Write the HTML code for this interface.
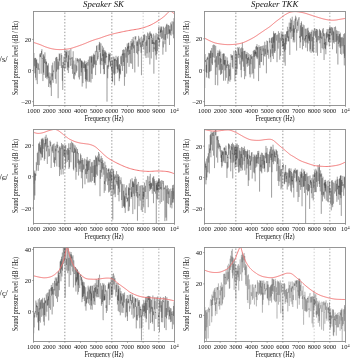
<!DOCTYPE html><html><head><meta charset="utf-8"><style>html,body{margin:0;padding:0;background:#fff;width:350px;height:358px;overflow:hidden}svg{display:block;will-change:transform}text{font-family:"Liberation Serif",serif;fill:#111}</style></head><body>
<svg width="350" height="358" viewBox="0 0 350 358" xmlns="http://www.w3.org/2000/svg">
<defs>
<clipPath id="cp00"><rect x="33.5" y="11.5" width="141.0" height="94"/></clipPath>
<clipPath id="cp01"><rect x="204.5" y="11.5" width="141.0" height="94"/></clipPath>
<clipPath id="cp10"><rect x="33.5" y="129.5" width="141.0" height="94"/></clipPath>
<clipPath id="cp11"><rect x="204.5" y="129.5" width="141.0" height="94"/></clipPath>
<clipPath id="cp20"><rect x="33.5" y="247.5" width="141.0" height="94"/></clipPath>
<clipPath id="cp21"><rect x="204.5" y="247.5" width="141.0" height="94"/></clipPath>
</defs>
<text transform="translate(103.5,7.3) scale(0.25,0.25)" font-size="35.2" text-anchor="middle" font-style="italic">Speaker SK</text>
<text transform="translate(274.7,7.3) scale(0.25,0.25)" font-size="35.2" text-anchor="middle" font-style="italic">Speaker TKK</text>
<line x1="64.83" y1="12.5" x2="64.83" y2="105.5" stroke="#8a8a8a" stroke-width="0.9" stroke-dasharray="1.4 1.8"/>
<line x1="111.83" y1="12.5" x2="111.83" y2="105.5" stroke="#8a8a8a" stroke-width="0.9" stroke-dasharray="1.4 1.8"/>
<line x1="143.17" y1="12.5" x2="143.17" y2="105.5" stroke="#c8c8c8" stroke-width="0.9" stroke-dasharray="1.4 1.8"/>
<line x1="158.83" y1="12.5" x2="158.83" y2="105.5" stroke="#a0a0a0" stroke-width="0.9" stroke-dasharray="1.4 1.8"/>
<path d="M33.5 71.72 33.7 62.68 33.9 52.96 34.1 66.35 34.3 65.28 34.5 58.58 34.7 58.3 34.9 73.35 35.1 57.89 35.3 59.02 35.5 77.66 35.7 57.9 35.9 63.24 36.1 80.27 36.3 60.02 36.5 67.94 36.7 59.11 36.9 64.74 37.11 80.88 37.31 84.1 37.51 74 37.71 62.67 37.91 64.63 38.11 69.57 38.31 63.58 38.51 66.88 38.71 69.58 38.91 69.63 39.11 68.55 39.31 73.86 39.51 56.28 39.71 54.93 39.91 53.65 40.11 56.93 40.31 54.63 40.51 57.19 40.71 52.99 40.91 59.68 41.11 73.69 41.31 62.22 41.51 50.88 41.71 54.52 41.91 49.16 42.11 58.38 42.31 59.01 42.51 58.39 42.71 59.65 42.91 81.11 43.11 54.47 43.31 68.94 43.51 72.56 43.71 54.38 43.91 74.9 44.12 56.7 44.32 56.41 44.52 63.14 44.72 56.75 44.92 52.34 45.12 54.88 45.32 67.07 45.52 77.86 45.72 59.17 45.92 64.17 46.12 61.42 46.32 77.4 46.52 61.79 46.72 69.08 46.92 78.99 47.12 79.26 47.32 65.46 47.52 76.51 47.72 65.43 47.92 72.68 48.12 78.03 48.32 63.35 48.52 86.98 48.72 83.73 48.92 73.08 49.12 72.51 49.32 72.64 49.52 83.51 49.72 81.38 49.92 76.54 50.12 87.45 50.32 83.36 50.52 80.62 50.72 84.73 50.92 73.16 51.12 76.08 51.33 96.02 51.53 79.04 51.73 68.07 51.93 65.32 52.13 76.45 52.33 73.49 52.53 80.24 52.73 62.65 52.93 76.94 53.13 82.79 53.33 78.49 53.53 70.56 53.73 71.87 53.93 69.38 54.13 67.97 54.33 61.18 54.53 62.85 54.73 68.16 54.93 73.28 55.13 74.33 55.33 78.92 55.53 59.01 55.73 57.81 55.93 61.45 56.13 83.63 56.33 56.92 56.53 71.59 56.73 58.46 56.93 56.88 57.13 60.94 57.33 61.6 57.53 69.51 57.73 62.36 57.93 58.73 58.13 98.22 58.34 61.55 58.54 66.56 58.74 69.49 58.94 61.61 59.14 53.58 59.34 54.65 59.54 60.62 59.74 53.71 59.94 65.84 60.14 59.36 60.34 59.41 60.54 58.96 60.74 58.25 60.94 57.79 61.14 53.2 61.34 67.96 61.54 66.37 61.74 54.95 61.94 64.53 62.14 71.65 62.34 80.8 62.54 65.13 62.74 89.91 62.94 62.22 63.14 63.38 63.34 62.41 63.54 68.1 63.74 58.92 63.94 56.61 64.14 65.26 64.34 70.55 64.54 61.67 64.74 50.86 64.94 49.2 65.14 50.39 65.35 52.08 65.55 54.88 65.75 68.43 65.95 51.34 66.15 62.37 66.35 52.1 66.55 57.62 66.75 49.91 66.95 50.19 67.15 54.5 67.35 70.01 67.55 70.32 67.75 61.74 67.95 67.24 68.15 50.72 68.35 73.06 68.55 55.35 68.75 57.94 68.95 67.82 69.15 59.09 69.35 50.27 69.55 55.41 69.75 59.15 69.95 59.67 70.15 58.37 70.35 58.99 70.55 65.86 70.75 49.03 70.95 48.78 71.15 58.89 71.35 57.53 71.55 62.71 71.75 65.16 71.95 64.66 72.15 69.04 72.36 57.14 72.56 73.8 72.76 67.17 72.96 64.83 73.16 51.26 73.36 70.6 73.56 78.71 73.76 61.11 73.96 60.53 74.16 63.21 74.36 79.44 74.56 72.54 74.76 73.86 74.96 64.4 75.16 75.48 75.36 74.23 75.56 64.49 75.76 62.18 75.96 57.85 76.16 61.39 76.36 72.65 76.56 65.5 76.76 66.37 76.96 70.77 77.16 59.35 77.36 61.19 77.56 57.97 77.76 58.76 77.96 62.56 78.16 59.14 78.36 60.08 78.56 61.87 78.76 77.35 78.96 70.15 79.16 59.4 79.37 79.48 79.57 75.5 79.77 69.22 79.97 58.06 80.17 61.35 80.37 58.79 80.57 62.06 80.77 67.72 80.97 75.91 81.17 60.67 81.37 72.36 81.57 60.57 81.77 67.8 81.97 60.65 82.17 86.62 82.37 61.57 82.57 64.63 82.77 70.41 82.97 83.2 83.17 62.66 83.37 64.2 83.57 64.87 83.77 68 83.97 61.77 84.17 68.23 84.37 65.98 84.57 60.56 84.77 70.49 84.97 71.75 85.17 64.07 85.37 79.16 85.57 64.45 85.77 81.52 85.97 61.29 86.17 88.49 86.38 76.55 86.58 62.91 86.78 79.98 86.98 69.17 87.18 76.03 87.38 81.51 87.58 63.16 87.78 61.9 87.98 65.58 88.18 60.09 88.38 59.7 88.58 63 88.78 70.74 88.98 82.14 89.18 78.99 89.38 56.46 89.58 69.38 89.78 81.59 89.98 58.56 90.18 57.7 90.38 56.1 90.58 67.12 90.78 70.57 90.98 82.55 91.18 57.15 91.38 62.6 91.58 56.31 91.78 73.83 91.98 55.41 92.18 78.91 92.38 64.79 92.58 65.39 92.78 62.03 92.98 56.68 93.18 68.34 93.38 65.89 93.59 53.66 93.79 67.36 93.99 55.01 94.19 63.29 94.39 64.35 94.59 54.66 94.79 63.87 94.99 64.55 95.19 52.48 95.39 50.82 95.59 75.12 95.79 63.28 95.99 60.47 96.19 64.2 96.39 65.08 96.59 46.07 96.79 51.98 96.99 45.2 97.19 53.27 97.39 53.51 97.59 60.56 97.79 51.51 97.99 58.95 98.19 56.53 98.39 56.83 98.59 53.97 98.79 46.47 98.99 44.45 99.19 49.99 99.39 41.88 99.59 45.25 99.79 52.11 99.99 42.68 100.19 64.59 100.39 53.2 100.6 73.67 100.8 47.42 101 43.46 101.2 55.68 101.4 60.45 101.6 60.93 101.8 58.07 102 65.19 102.2 56.65 102.4 45.78 102.6 56.21 102.8 49.63 103 61.47 103.2 53.8 103.4 69.09 103.6 47.58 103.8 61.31 104 74.35 104.2 50.16 104.4 74 104.6 64.13 104.8 52.17 105 63.02 105.2 50.66 105.4 64.2 105.6 64.68 105.8 51.7 106 57.88 106.2 52.92 106.4 54.27 106.6 57.16 106.8 56.07 107 101.65 107.2 68.68 107.4 65.56 107.61 77.71 107.81 78.3 108.01 64.88 108.21 68.73 108.41 54.02 108.61 60.79 108.81 66.84 109.01 52.54 109.21 62.34 109.41 54.45 109.61 60.53 109.81 54.53 110.01 55.74 110.21 53.03 110.41 65.95 110.61 61.12 110.81 66.89 111.01 62.79 111.21 57.38 111.41 70.09 111.61 66.91 111.81 78.13 112.01 78.27 112.21 81.06 112.41 60.37 112.61 82.35 112.81 65.3 113.01 56.59 113.21 64.73 113.41 65 113.61 64.97 113.81 73.38 114.01 56.77 114.21 74.75 114.41 59.26 114.62 85.32 114.82 58.66 115.02 60.84 115.22 58.67 115.42 61.69 115.62 67.17 115.82 73.68 116.02 55.75 116.22 66.57 116.42 60.02 116.62 62.04 116.82 63.4 117.02 66.45 117.22 69.14 117.42 56.95 117.62 72.72 117.82 58.4 118.02 69.7 118.22 55.91 118.42 59.56 118.62 65.74 118.82 71.44 119.02 64.79 119.22 81.18 119.42 63.95 119.62 78.45 119.82 68.69 120.02 73.49 120.22 65.46 120.42 67.16 120.62 74.53 120.82 56.49 121.02 64.33 121.22 55.71 121.42 64.44 121.62 65.82 121.83 58.6 122.03 57.66 122.23 53.85 122.43 70.92 122.63 49.93 122.83 55.32 123.03 53.22 123.23 55.19 123.43 62.08 123.63 49.33 123.83 66.07 124.03 56.43 124.23 49.79 124.43 85.8 124.63 61.37 124.83 53.19 125.03 76.95 125.23 50.15 125.43 46.99 125.63 50.36 125.83 51.04 126.03 57.55 126.23 48.46 126.43 51.02 126.63 73.57 126.83 58.11 127.03 55.71 127.23 43.48 127.43 62.78 127.63 46.72 127.83 51.63 128.03 45.66 128.23 48.55 128.43 42.98 128.63 55.18 128.84 42.53 129.04 66.83 129.24 58.84 129.44 55.88 129.64 49.88 129.84 54.13 130.04 45.87 130.24 49.12 130.44 63.35 130.64 47.98 130.84 41.03 131.04 41 131.24 57.5 131.44 63.65 131.64 43.37 131.84 49.66 132.04 39.14 132.24 46.5 132.44 42.56 132.64 68.96 132.84 49.18 133.04 39.01 133.24 36.95 133.44 48.38 133.64 44.14 133.84 40.59 134.04 53.07 134.24 46.39 134.44 45.3 134.64 58.58 134.84 72.44 135.04 36.41 135.24 39.6 135.44 37.78 135.64 38.36 135.85 36.21 136.05 43.34 136.25 43.7 136.45 53.13 136.65 48.29 136.85 41.34 137.05 45.89 137.25 42.08 137.45 54.29 137.65 40.48 137.85 43.71 138.05 52.03 138.25 66.68 138.45 41.98 138.65 35.84 138.85 51.18 139.05 46.24 139.25 38.82 139.45 41.41 139.65 42.12 139.85 44.53 140.05 37.56 140.25 39.59 140.45 42.96 140.65 47.28 140.85 42.23 141.05 52.82 141.25 44.78 141.45 75.17 141.65 36.67 141.85 37.91 142.05 45.15 142.25 41.15 142.45 42.35 142.65 46.97 142.86 39.42 143.06 42.11 143.26 41.93 143.46 39.78 143.66 35.24 143.86 49.64 144.06 36.12 144.26 34.17 144.46 38.25 144.66 40.63 144.86 34.79 145.06 55.65 145.26 46.68 145.46 42.12 145.66 41.7 145.86 41.96 146.06 58.08 146.26 35.8 146.46 37.68 146.66 45.88 146.86 40.38 147.06 53.35 147.26 45.25 147.46 33.86 147.66 32.45 147.86 46.89 148.06 57.66 148.26 33.53 148.46 37.32 148.66 39.34 148.86 38.23 149.06 39.15 149.26 35.73 149.46 52.36 149.66 32.56 149.87 64.47 150.07 31.39 150.27 32.83 150.47 35.71 150.67 33.51 150.87 37.28 151.07 46.9 151.27 58.45 151.47 33.58 151.67 38 151.87 34.65 152.07 43.93 152.27 39.86 152.47 43.99 152.67 37.81 152.87 39.56 153.07 52 153.27 41.92 153.47 44.08 153.67 33.7 153.87 73.68 154.07 47.29 154.27 49.25 154.47 42.49 154.67 44.45 154.87 36.22 155.07 35.46 155.27 51.3 155.47 40.34 155.67 55.39 155.87 45.18 156.07 32.89 156.27 59.72 156.47 39.86 156.67 42.05 156.88 54.17 157.08 39.49 157.28 34 157.48 42.81 157.68 50.88 157.88 37.62 158.08 38.57 158.28 36.5 158.48 39.98 158.68 26.95 158.88 36.64 159.08 41.48 159.28 46.86 159.48 38.49 159.68 42.23 159.88 41.04 160.08 26.47 160.28 36.8 160.48 30.27 160.68 32.8 160.88 28.47 161.08 32.05 161.28 26.64 161.48 38.73 161.68 28.34 161.88 26.55 162.08 34.04 162.28 38.25 162.48 35.75 162.68 30.35 162.88 54.67 163.08 41.35 163.28 47.45 163.48 26.6 163.68 34.19 163.88 39.5 164.09 27.73 164.29 28 164.49 31.1 164.69 40.39 164.89 44.23 165.09 34.13 165.29 39.88 165.49 35.56 165.69 26.63 165.89 51.79 166.09 28.9 166.29 24.77 166.49 24.6 166.69 34.7 166.89 23.69 167.09 27.9 167.29 37.6 167.49 37.86 167.69 38.54 167.89 24.78 168.09 34.25 168.29 32.89 168.49 25.14 168.69 30.05 168.89 29.89 169.09 33.84 169.29 29.39 169.49 44.99 169.69 25.75 169.89 33.29 170.09 29.53 170.29 34.82 170.49 24.11 170.69 22.56 170.89 23.13 171.1 35.68 171.3 30.42 171.5 24.38 171.7 30.8 171.9 29.21 172.1 21.3 172.3 30.46 172.5 31.3 172.7 31.45 172.9 34.34 173.1 34.47 173.3 21.61 173.5 38.22 173.7 33.66 173.9 18.22 174.1 20.71 174.3 29.15 174.5 36.05" fill="none" stroke="#000" stroke-width="0.22" clip-path="url(#cp00)"/>
<path d="M33.5 42.4 34.01 42.57 34.7 42.8 35.53 43.07 36.44 43.37 37.39 43.69 38.33 44.01 39.21 44.31 40 44.6 40.7 44.87 41.36 45.14 41.98 45.42 42.59 45.69 43.19 45.95 43.79 46.21 44.39 46.46 45 46.7 45.62 46.93 46.25 47.15 46.88 47.36 47.5 47.57 48.12 47.77 48.75 47.95 49.38 48.13 50 48.3 50.62 48.46 51.25 48.61 51.88 48.75 52.5 48.88 53.12 49 53.75 49.11 54.38 49.21 55 49.3 55.62 49.38 56.25 49.44 56.88 49.49 57.5 49.53 58.12 49.56 58.75 49.58 59.38 49.6 60 49.6 60.62 49.59 61.25 49.58 61.88 49.55 62.5 49.51 63.12 49.47 63.75 49.42 64.38 49.36 65 49.3 65.62 49.24 66.25 49.17 66.88 49.1 67.5 49.02 68.12 48.94 68.75 48.84 69.38 48.73 70 48.6 70.62 48.45 71.25 48.29 71.88 48.1 72.5 47.91 73.12 47.71 73.75 47.51 74.38 47.3 75 47.1 75.62 46.9 76.25 46.69 76.88 46.49 77.5 46.27 78.12 46.06 78.75 45.84 79.38 45.62 80 45.4 80.62 45.17 81.25 44.94 81.88 44.71 82.5 44.48 83.12 44.24 83.75 43.99 84.38 43.75 85 43.5 85.62 43.25 86.25 42.98 86.88 42.71 87.5 42.44 88.12 42.17 88.75 41.91 89.38 41.65 90 41.4 90.62 41.16 91.25 40.92 91.88 40.69 92.5 40.46 93.12 40.24 93.75 40.02 94.38 39.81 95 39.6 95.62 39.4 96.25 39.21 96.88 39.03 97.5 38.85 98.12 38.67 98.75 38.49 99.38 38.3 100 38.1 100.61 37.89 101.21 37.68 101.81 37.46 102.41 37.23 103.02 37 103.64 36.77 104.3 36.54 105 36.3 105.73 36.06 106.47 35.81 107.24 35.56 108.03 35.31 108.85 35.06 109.7 34.8 110.58 34.55 111.5 34.3 112.46 34.05 113.45 33.8 114.48 33.55 115.53 33.3 116.61 33.05 117.72 32.8 118.85 32.55 120 32.3 121.18 32.05 122.39 31.79 123.64 31.54 124.91 31.28 126.18 31.03 127.46 30.78 128.74 30.54 130 30.3 131.25 30.08 132.5 29.89 133.75 29.71 135 29.53 136.25 29.34 137.5 29.13 138.75 28.89 140 28.6 141.26 28.28 142.53 27.93 143.8 27.55 145.08 27.16 146.34 26.73 147.58 26.28 148.81 25.8 150 25.3 151.18 24.75 152.35 24.16 153.5 23.53 154.64 22.88 155.74 22.22 156.81 21.56 157.83 20.92 158.8 20.3 159.71 19.71 160.57 19.12 161.38 18.54 162.15 17.97 162.89 17.4 163.61 16.83 164.31 16.27 165 15.7 165.67 15.08 166.3 14.4 166.91 13.69 167.49 12.99 168.07 12.36 168.64 11.82 169.21 11.42 169.8 11.2 170.42 11.21 171.09 11.43 171.78 11.8 172.45 12.27 173.09 12.77 173.66 13.25 174.14 13.64 174.5 13.9" fill="none" stroke="#f07070" stroke-width="0.95" clip-path="url(#cp00)"/>
<rect x="33.5" y="11.5" width="141.0" height="94" fill="none" stroke="#8c8c8c" stroke-width="0.9"/>
<line x1="33.5" y1="105.5" x2="33.5" y2="106.7" stroke="#777" stroke-width="0.8"/>
<text transform="translate(33.5,113.4) scale(0.25,0.27)" font-size="26" text-anchor="middle">1000</text>
<line x1="49.17" y1="105.5" x2="49.17" y2="106.7" stroke="#777" stroke-width="0.8"/>
<text transform="translate(49.17,113.4) scale(0.25,0.27)" font-size="26" text-anchor="middle">2000</text>
<line x1="64.83" y1="105.5" x2="64.83" y2="106.7" stroke="#777" stroke-width="0.8"/>
<text transform="translate(64.83,113.4) scale(0.25,0.27)" font-size="26" text-anchor="middle">3000</text>
<line x1="80.5" y1="105.5" x2="80.5" y2="106.7" stroke="#777" stroke-width="0.8"/>
<text transform="translate(80.5,113.4) scale(0.25,0.27)" font-size="26" text-anchor="middle">4000</text>
<line x1="96.17" y1="105.5" x2="96.17" y2="106.7" stroke="#777" stroke-width="0.8"/>
<text transform="translate(96.17,113.4) scale(0.25,0.27)" font-size="26" text-anchor="middle">5000</text>
<line x1="111.83" y1="105.5" x2="111.83" y2="106.7" stroke="#777" stroke-width="0.8"/>
<text transform="translate(111.83,113.4) scale(0.25,0.27)" font-size="26" text-anchor="middle">6000</text>
<line x1="127.5" y1="105.5" x2="127.5" y2="106.7" stroke="#777" stroke-width="0.8"/>
<text transform="translate(127.5,113.4) scale(0.25,0.27)" font-size="26" text-anchor="middle">7000</text>
<line x1="143.17" y1="105.5" x2="143.17" y2="106.7" stroke="#777" stroke-width="0.8"/>
<text transform="translate(143.17,113.4) scale(0.25,0.27)" font-size="26" text-anchor="middle">8000</text>
<line x1="158.83" y1="105.5" x2="158.83" y2="106.7" stroke="#777" stroke-width="0.8"/>
<text transform="translate(158.83,113.4) scale(0.25,0.27)" font-size="26" text-anchor="middle">9000</text>
<line x1="174.5" y1="105.5" x2="174.5" y2="106.7" stroke="#777" stroke-width="0.8"/>
<text transform="translate(173.3,113.4) scale(0.25,0.27)" font-size="26" text-anchor="middle">10</text><text transform="translate(176.5,110.5) scale(0.25,0.28)" font-size="17.2" text-anchor="start">4</text>
<text transform="translate(104,120.5) scale(0.25,0.29)" font-size="24.8" text-anchor="middle">Frequency (Hz)</text>
<line x1="32.3" y1="39.4" x2="33.5" y2="39.4" stroke="#777" stroke-width="0.8"/>
<text transform="translate(31.3,41.8) scale(0.25,0.27)" font-size="26" text-anchor="end">20</text>
<line x1="32.3" y1="70.5" x2="33.5" y2="70.5" stroke="#777" stroke-width="0.8"/>
<text transform="translate(31.3,72.9) scale(0.25,0.27)" font-size="26" text-anchor="end">0</text>
<line x1="32.3" y1="101.6" x2="33.5" y2="101.6" stroke="#777" stroke-width="0.8"/>
<text transform="translate(31.3,104) scale(0.25,0.27)" font-size="26" text-anchor="end">–20</text>
<text transform="translate(18.3,58) rotate(-90) scale(0.25,0.33)" font-size="24" text-anchor="middle">Sound pressure level (dB / Hz)</text>
<line x1="235.83" y1="12.5" x2="235.83" y2="105.5" stroke="#8a8a8a" stroke-width="0.9" stroke-dasharray="1.4 1.8"/>
<line x1="282.83" y1="12.5" x2="282.83" y2="105.5" stroke="#8a8a8a" stroke-width="0.9" stroke-dasharray="1.4 1.8"/>
<line x1="314.17" y1="12.5" x2="314.17" y2="105.5" stroke="#c8c8c8" stroke-width="0.9" stroke-dasharray="1.4 1.8"/>
<line x1="329.83" y1="12.5" x2="329.83" y2="105.5" stroke="#a0a0a0" stroke-width="0.9" stroke-dasharray="1.4 1.8"/>
<path d="M204.5 57.23 204.7 88.05 204.9 56.47 205.1 54.1 205.3 61.99 205.5 60.08 205.7 62.32 205.9 62.75 206.1 72.02 206.3 64.77 206.5 77.42 206.7 59.2 206.9 73.12 207.1 57.56 207.3 59.79 207.5 56.71 207.7 58.64 207.9 57.89 208.11 61.64 208.31 77.87 208.51 73.84 208.71 52.88 208.91 55.32 209.11 78.62 209.31 53.54 209.51 68.48 209.71 71.99 209.91 53.1 210.11 71.29 210.31 60.03 210.51 50.59 210.71 58.17 210.91 50.7 211.11 70.84 211.31 64.48 211.51 63.46 211.71 47.95 211.91 61.34 212.11 63.54 212.31 52.9 212.51 65.09 212.71 58.89 212.91 45.2 213.11 56.98 213.31 49.75 213.51 45.13 213.71 44.53 213.91 44.53 214.11 57.87 214.31 56.76 214.51 47.35 214.71 45 214.91 62.47 215.12 59.61 215.32 85.08 215.52 53.97 215.72 45.84 215.92 72.73 216.12 74.82 216.32 64.96 216.52 56.19 216.72 67.4 216.92 58.47 217.12 56.41 217.32 54.15 217.52 53.14 217.72 85.37 217.92 50.45 218.12 51.15 218.32 64.71 218.52 59.03 218.72 52.84 218.92 54.72 219.12 70.36 219.32 51.31 219.52 56.01 219.72 49.58 219.92 69.65 220.12 57.85 220.32 57.95 220.52 74.83 220.72 51.57 220.92 62.61 221.12 58.86 221.32 74.15 221.52 63.76 221.72 64.06 221.92 73.39 222.12 55.39 222.33 53.88 222.53 69.82 222.73 65.89 222.93 65.78 223.13 64.52 223.33 53.46 223.53 80.72 223.73 53.65 223.93 64.19 224.13 53.53 224.33 53.92 224.53 65.33 224.73 59.89 224.93 70.42 225.13 60.12 225.33 80.65 225.53 60.07 225.73 56.3 225.93 58.65 226.13 70.39 226.33 77.8 226.53 64.56 226.73 67.93 226.93 67.44 227.13 57.42 227.33 64.92 227.53 65.93 227.73 60.56 227.93 83.82 228.13 80.2 228.33 78.28 228.53 64.24 228.73 80.81 228.93 67.67 229.13 64.82 229.34 67.26 229.54 76.24 229.74 69.24 229.94 81.71 230.14 62.81 230.34 67.67 230.54 68.71 230.74 79.7 230.94 54.15 231.14 56.14 231.34 57.63 231.54 55.73 231.74 55.2 231.94 60.09 232.14 55.98 232.34 67.29 232.54 55.02 232.74 68.19 232.94 68.03 233.14 68.62 233.34 67.95 233.54 59.38 233.74 57.41 233.94 50.78 234.14 54.82 234.34 56.7 234.54 65.24 234.74 66.18 234.94 81.38 235.14 71.26 235.34 53.3 235.54 49.95 235.74 75.2 235.94 70.04 236.14 52.1 236.35 52.07 236.55 51.75 236.75 74.67 236.95 53.84 237.15 68.86 237.35 47.87 237.55 47.83 237.75 47.21 237.95 49.43 238.15 55.58 238.35 58.15 238.55 48.31 238.75 55.19 238.95 49.06 239.15 46.86 239.35 54.65 239.55 53.76 239.75 64.28 239.95 55.02 240.15 57.59 240.35 53.94 240.55 48.39 240.75 58.76 240.95 70.11 241.15 61.09 241.35 77.35 241.55 47.52 241.75 61.21 241.95 51.69 242.15 59.36 242.35 42.62 242.55 56.89 242.75 61.59 242.95 48.3 243.15 61.22 243.36 66.7 243.56 57.46 243.76 55.36 243.96 51.05 244.16 71.08 244.36 50.81 244.56 79.17 244.76 74.02 244.96 70.7 245.16 50.76 245.36 56.63 245.56 73.37 245.76 76.3 245.96 54.29 246.16 58.64 246.36 54.08 246.56 57.51 246.76 64.22 246.96 51.92 247.16 60.47 247.36 66.73 247.56 57.98 247.76 63.22 247.96 56.5 248.16 53.15 248.36 60.23 248.56 57.24 248.76 65.72 248.96 55.4 249.16 54.81 249.36 54.31 249.56 70.34 249.76 74.26 249.96 58.69 250.16 77.4 250.37 58.79 250.57 54.97 250.77 62.87 250.97 64.32 251.17 54.21 251.37 58.93 251.57 56.46 251.77 60.5 251.97 74.36 252.17 65.69 252.37 56.24 252.57 66.89 252.77 68.82 252.97 73.22 253.17 50.94 253.37 51.93 253.57 65.25 253.77 78.67 253.97 50.14 254.17 57 254.37 49.72 254.57 50.11 254.77 68.72 254.97 52.02 255.17 55.55 255.37 50.57 255.57 53.99 255.77 46.64 255.97 56.19 256.17 52.1 256.37 57.41 256.57 46.1 256.77 49.61 256.97 44.12 257.17 59.08 257.38 47.29 257.58 49.64 257.78 57.57 257.98 47.1 258.18 60.35 258.38 62.35 258.58 81.13 258.78 54.54 258.98 45.25 259.18 49.76 259.38 65.13 259.58 55.91 259.78 47.02 259.98 68.06 260.18 59.91 260.38 49.61 260.58 50.04 260.78 46.42 260.98 61.92 261.18 46.08 261.38 51.56 261.58 61.92 261.78 53.83 261.98 55 262.18 54.17 262.38 49.63 262.58 45.79 262.78 48.29 262.98 51.4 263.18 48.35 263.38 65.32 263.58 52.1 263.78 45.4 263.98 50.76 264.18 56.08 264.38 53.9 264.59 47.93 264.79 41.72 264.99 56.69 265.19 48.74 265.39 54.39 265.59 50.93 265.79 45.65 265.99 44.86 266.19 47.55 266.39 73.31 266.59 54.48 266.79 40.53 266.99 42 267.19 42.61 267.39 55.03 267.59 41.06 267.79 52.69 267.99 49.66 268.19 51.56 268.39 52.42 268.59 57.17 268.79 58.74 268.99 47.45 269.19 47.21 269.39 37.93 269.59 42.62 269.79 42.14 269.99 40.61 270.19 46.16 270.39 57.32 270.59 49.36 270.79 62.11 270.99 59.47 271.19 38.22 271.39 43.09 271.6 37.51 271.8 45.97 272 53.56 272.2 44.63 272.4 56.25 272.6 37.24 272.8 48.07 273 37.94 273.2 36.6 273.4 58.96 273.6 31.27 273.8 42.69 274 33.07 274.2 52.69 274.4 37.95 274.6 34.1 274.8 52.88 275 33.31 275.2 50.94 275.4 35.93 275.6 32.94 275.8 34.4 276 35.39 276.2 39.1 276.4 40.6 276.6 39.1 276.8 34.84 277 62.21 277.2 51.33 277.4 50.99 277.6 41.18 277.8 34.4 278 44.03 278.2 48.65 278.4 31.23 278.61 32.59 278.81 33.76 279.01 42.76 279.21 32.92 279.41 33.4 279.61 56.95 279.81 59.74 280.01 45.61 280.21 37.69 280.41 39.16 280.61 55.85 280.81 37.55 281.01 35.07 281.21 31.36 281.41 40.85 281.61 38.47 281.81 34.24 282.01 42.9 282.21 47.11 282.41 44.96 282.61 34.94 282.81 32.74 283.01 46.13 283.21 34.54 283.41 49.3 283.61 38.87 283.81 42.83 284.01 62.34 284.21 43.99 284.41 42.87 284.61 51.52 284.81 34.5 285.01 44.15 285.21 65.78 285.41 34.16 285.62 49.69 285.82 37.87 286.02 41.71 286.22 44.35 286.42 40.59 286.62 31.66 286.82 41.52 287.02 31 287.22 37.43 287.42 26.75 287.62 27.01 287.82 37.94 288.02 31.04 288.22 41.33 288.42 36.4 288.62 41.36 288.82 29.44 289.02 31.41 289.22 22.57 289.42 35.46 289.62 39.43 289.82 54.92 290.02 26.84 290.22 29.32 290.42 18.46 290.62 32.5 290.82 22.89 291.02 33.04 291.22 38.87 291.42 25.36 291.62 19.79 291.82 31.15 292.02 20 292.22 16.7 292.42 22.3 292.62 22.98 292.83 36.98 293.03 28.56 293.23 42.39 293.43 25.24 293.63 40.28 293.83 27.43 294.03 20.68 294.23 32.66 294.43 28.52 294.63 42.39 294.83 41.52 295.03 18.82 295.23 19.98 295.43 29.13 295.63 15.72 295.83 20.63 296.03 17.39 296.23 17.58 296.43 41.38 296.63 50.6 296.83 29.31 297.03 32.81 297.23 21.58 297.43 25.76 297.63 24 297.83 19.68 298.03 30.84 298.23 29.99 298.43 26.33 298.63 18.59 298.83 19.56 299.03 17.03 299.23 18.76 299.43 29.06 299.63 38.05 299.84 35.9 300.04 48.09 300.24 31.69 300.44 25.38 300.64 42.34 300.84 28.16 301.04 22.9 301.24 36.75 301.44 21.34 301.64 36.12 301.84 28.54 302.04 27.37 302.24 27.56 302.44 49.35 302.64 26.95 302.84 39.66 303.04 24.45 303.24 38.28 303.44 45.98 303.64 31.88 303.84 25.97 304.04 25.18 304.24 25.58 304.44 27.07 304.64 40.69 304.84 38.34 305.04 42.59 305.24 28.69 305.44 39.21 305.64 35.66 305.84 47.68 306.04 28.71 306.24 31.18 306.44 36.26 306.64 35 306.85 42.51 307.05 39.14 307.25 28.35 307.45 51.28 307.65 34.39 307.85 30.09 308.05 27.67 308.25 43.47 308.45 30.59 308.65 38.62 308.85 33.22 309.05 40.58 309.25 35.41 309.45 40.99 309.65 32.39 309.85 51.47 310.05 31.79 310.25 49.33 310.45 48.85 310.65 33.77 310.85 39.39 311.05 52.91 311.25 36.87 311.45 31.69 311.65 33.76 311.85 41.36 312.05 29.68 312.25 39.85 312.45 51.18 312.65 36.88 312.85 52.21 313.05 47.67 313.25 43.89 313.45 30.51 313.65 52.76 313.86 33.71 314.06 34.35 314.26 30.22 314.46 28.13 314.66 29.8 314.86 35.53 315.06 29.51 315.26 28.63 315.46 37.63 315.66 32.27 315.86 30.96 316.06 52.8 316.26 50.6 316.46 28.93 316.66 42.2 316.86 38.64 317.06 29.04 317.26 37.31 317.46 55.76 317.66 30.24 317.86 30.88 318.06 40.38 318.26 40.49 318.46 35.95 318.66 36.66 318.86 36.9 319.06 39.88 319.26 39.15 319.46 28.86 319.66 32.61 319.86 43.31 320.06 30.12 320.26 38.14 320.46 30.7 320.66 46.76 320.87 53.05 321.07 32.61 321.27 33.29 321.47 35.54 321.67 38.8 321.87 36.61 322.07 48.17 322.27 31.56 322.47 32.34 322.67 29.22 322.87 42.06 323.07 49.35 323.27 28.01 323.47 31.56 323.67 36.23 323.87 32.98 324.07 60.04 324.27 42.74 324.47 44.47 324.67 33.73 324.87 48.27 325.07 38.56 325.27 40.58 325.47 49.24 325.67 41.96 325.87 54.27 326.07 33.1 326.27 38.42 326.47 34.66 326.67 31.65 326.87 45.38 327.07 29.08 327.27 31.71 327.47 37.38 327.67 35.52 327.88 33.82 328.08 35.7 328.28 29.1 328.48 41.74 328.68 34.39 328.88 42.21 329.08 34.15 329.28 46.62 329.48 26.87 329.68 39.58 329.88 30.83 330.08 28.43 330.28 33.16 330.48 31.49 330.68 26.79 330.88 42.48 331.08 37.9 331.28 29.77 331.48 27.1 331.68 35.3 331.88 32.71 332.08 31.41 332.28 28.23 332.48 49.26 332.68 27.67 332.88 27.31 333.08 40.11 333.28 30.66 333.48 42.59 333.68 31.73 333.88 35.69 334.08 42.58 334.28 43.56 334.48 34.95 334.68 26.99 334.88 32.59 335.09 41.96 335.29 37.94 335.49 26.47 335.69 28.66 335.89 28.62 336.09 41.87 336.29 30.28 336.49 53.47 336.69 39.21 336.89 33.84 337.09 40.6 337.29 30.76 337.49 32.23 337.69 40.51 337.89 64.56 338.09 36.08 338.29 43.96 338.49 36.8 338.69 36.08 338.89 31.06 339.09 46.6 339.29 34.21 339.49 42.37 339.69 41.78 339.89 33.98 340.09 48.12 340.29 32.6 340.49 53.93 340.69 40.68 340.89 37.3 341.09 46.39 341.29 43.64 341.49 37.5 341.69 54.68 341.89 53.31 342.1 50.47 342.3 36.77 342.5 39.64 342.7 45.46 342.9 46.24 343.1 37.94 343.3 53.66 343.5 48.32 343.7 34.14 343.9 47.92 344.1 54.36 344.3 65.45 344.5 33.25 344.7 58.09 344.9 45.07 345.1 55.85 345.3 41.7 345.5 32.52" fill="none" stroke="#000" stroke-width="0.22" clip-path="url(#cp01)"/>
<path d="M204.5 38.1 204.93 38.32 205.5 38.62 206.18 38.98 206.94 39.37 207.73 39.79 208.53 40.19 209.3 40.57 210 40.9 210.65 41.2 211.29 41.48 211.91 41.75 212.53 42.01 213.15 42.26 213.76 42.49 214.38 42.7 215 42.9 215.62 43.08 216.25 43.23 216.88 43.37 217.5 43.49 218.12 43.6 218.75 43.7 219.38 43.8 220 43.9 220.62 44 221.25 44.09 221.88 44.18 222.5 44.26 223.12 44.33 223.75 44.39 224.38 44.45 225 44.5 225.62 44.54 226.25 44.57 226.88 44.59 227.5 44.61 228.12 44.61 228.75 44.61 229.38 44.61 230 44.6 230.62 44.59 231.25 44.56 231.88 44.54 232.5 44.51 233.12 44.47 233.75 44.42 234.38 44.36 235 44.3 235.63 44.23 236.27 44.14 236.92 44.05 237.56 43.96 238.2 43.85 238.82 43.74 239.42 43.62 240 43.5 240.53 43.38 241.02 43.27 241.49 43.15 241.94 43.02 242.4 42.88 242.88 42.72 243.41 42.53 244 42.3 244.66 42.03 245.38 41.71 246.15 41.37 246.94 41 247.74 40.62 248.52 40.24 249.28 39.86 250 39.5 250.67 39.15 251.32 38.81 251.95 38.48 252.56 38.14 253.17 37.79 253.77 37.44 254.38 37.08 255 36.7 255.62 36.3 256.25 35.89 256.88 35.47 257.5 35.04 258.12 34.6 258.75 34.16 259.38 33.73 260 33.3 260.62 32.88 261.25 32.45 261.88 32.02 262.5 31.6 263.12 31.17 263.75 30.75 264.38 30.32 265 29.9 265.62 29.48 266.25 29.07 266.88 28.66 267.5 28.25 268.12 27.83 268.75 27.41 269.38 26.96 270 26.5 270.62 26.01 271.25 25.5 271.88 24.97 272.5 24.43 273.12 23.88 273.75 23.34 274.38 22.81 275 22.3 275.62 21.81 276.25 21.32 276.88 20.84 277.5 20.37 278.12 19.9 278.75 19.43 279.38 18.97 280 18.5 280.62 18.02 281.25 17.54 281.88 17.05 282.5 16.57 283.12 16.1 283.75 15.64 284.38 15.2 285 14.8 285.62 14.42 286.25 14.05 286.88 13.7 287.5 13.36 288.12 13.05 288.75 12.77 289.38 12.52 290 12.3 290.62 12.12 291.25 11.97 291.88 11.85 292.5 11.76 293.12 11.7 293.75 11.65 294.38 11.62 295 11.6 295.62 11.6 296.25 11.63 296.88 11.67 297.5 11.74 298.12 11.82 298.75 11.9 299.38 12 300 12.1 300.62 12.21 301.25 12.32 301.88 12.45 302.5 12.58 303.12 12.72 303.75 12.88 304.38 13.03 305 13.2 305.62 13.38 306.25 13.56 306.88 13.76 307.5 13.97 308.12 14.18 308.75 14.39 309.38 14.6 310 14.8 310.62 15 311.25 15.2 311.88 15.4 312.5 15.6 313.12 15.8 313.75 16 314.38 16.2 315 16.4 315.62 16.6 316.25 16.81 316.88 17.01 317.5 17.22 318.12 17.42 318.75 17.62 319.38 17.81 320 18 320.62 18.18 321.25 18.36 321.88 18.53 322.5 18.7 323.12 18.86 323.75 19.02 324.38 19.16 325 19.3 325.62 19.43 326.25 19.55 326.88 19.67 327.5 19.78 328.12 19.88 328.75 19.97 329.38 20.04 330 20.1 330.62 20.14 331.25 20.18 331.88 20.19 332.5 20.2 333.12 20.19 333.75 20.18 334.38 20.14 335 20.1 335.62 20.04 336.24 19.96 336.85 19.86 337.47 19.76 338.09 19.64 338.71 19.53 339.35 19.41 340 19.3 340.7 19.19 341.47 19.06 342.27 18.93 343.06 18.8 343.82 18.68 344.5 18.56 345.07 18.47 345.5 18.4" fill="none" stroke="#f07070" stroke-width="0.95" clip-path="url(#cp01)"/>
<rect x="204.5" y="11.5" width="141.0" height="94" fill="none" stroke="#8c8c8c" stroke-width="0.9"/>
<line x1="204.5" y1="105.5" x2="204.5" y2="106.7" stroke="#777" stroke-width="0.8"/>
<text transform="translate(204.5,113.4) scale(0.25,0.27)" font-size="26" text-anchor="middle">1000</text>
<line x1="220.17" y1="105.5" x2="220.17" y2="106.7" stroke="#777" stroke-width="0.8"/>
<text transform="translate(220.17,113.4) scale(0.25,0.27)" font-size="26" text-anchor="middle">2000</text>
<line x1="235.83" y1="105.5" x2="235.83" y2="106.7" stroke="#777" stroke-width="0.8"/>
<text transform="translate(235.83,113.4) scale(0.25,0.27)" font-size="26" text-anchor="middle">3000</text>
<line x1="251.5" y1="105.5" x2="251.5" y2="106.7" stroke="#777" stroke-width="0.8"/>
<text transform="translate(251.5,113.4) scale(0.25,0.27)" font-size="26" text-anchor="middle">4000</text>
<line x1="267.17" y1="105.5" x2="267.17" y2="106.7" stroke="#777" stroke-width="0.8"/>
<text transform="translate(267.17,113.4) scale(0.25,0.27)" font-size="26" text-anchor="middle">5000</text>
<line x1="282.83" y1="105.5" x2="282.83" y2="106.7" stroke="#777" stroke-width="0.8"/>
<text transform="translate(282.83,113.4) scale(0.25,0.27)" font-size="26" text-anchor="middle">6000</text>
<line x1="298.5" y1="105.5" x2="298.5" y2="106.7" stroke="#777" stroke-width="0.8"/>
<text transform="translate(298.5,113.4) scale(0.25,0.27)" font-size="26" text-anchor="middle">7000</text>
<line x1="314.17" y1="105.5" x2="314.17" y2="106.7" stroke="#777" stroke-width="0.8"/>
<text transform="translate(314.17,113.4) scale(0.25,0.27)" font-size="26" text-anchor="middle">8000</text>
<line x1="329.83" y1="105.5" x2="329.83" y2="106.7" stroke="#777" stroke-width="0.8"/>
<text transform="translate(329.83,113.4) scale(0.25,0.27)" font-size="26" text-anchor="middle">9000</text>
<line x1="345.5" y1="105.5" x2="345.5" y2="106.7" stroke="#777" stroke-width="0.8"/>
<text transform="translate(344.3,113.4) scale(0.25,0.27)" font-size="26" text-anchor="middle">10</text><text transform="translate(347.5,110.5) scale(0.25,0.28)" font-size="17.2" text-anchor="start">4</text>
<text transform="translate(275,120.5) scale(0.25,0.29)" font-size="24.8" text-anchor="middle">Frequency (Hz)</text>
<line x1="203.3" y1="38.8" x2="204.5" y2="38.8" stroke="#777" stroke-width="0.8"/>
<text transform="translate(202.3,41.2) scale(0.25,0.27)" font-size="26" text-anchor="end">20</text>
<line x1="203.3" y1="70.2" x2="204.5" y2="70.2" stroke="#777" stroke-width="0.8"/>
<text transform="translate(202.3,72.6) scale(0.25,0.27)" font-size="26" text-anchor="end">0</text>
<line x1="203.3" y1="101.6" x2="204.5" y2="101.6" stroke="#777" stroke-width="0.8"/>
<text transform="translate(202.3,104) scale(0.25,0.27)" font-size="26" text-anchor="end">–20</text>
<text transform="translate(189.3,58) rotate(-90) scale(0.25,0.33)" font-size="24" text-anchor="middle">Sound pressure level (dB / Hz)</text>
<text transform="translate(-0.4,61.6) scale(0.25,0.25)" font-size="33.2" text-anchor="start">/s/</text>
<line x1="64.83" y1="130.5" x2="64.83" y2="223.5" stroke="#8a8a8a" stroke-width="0.9" stroke-dasharray="1.4 1.8"/>
<line x1="111.83" y1="130.5" x2="111.83" y2="223.5" stroke="#8a8a8a" stroke-width="0.9" stroke-dasharray="1.4 1.8"/>
<line x1="143.17" y1="130.5" x2="143.17" y2="223.5" stroke="#c8c8c8" stroke-width="0.9" stroke-dasharray="1.4 1.8"/>
<line x1="158.83" y1="130.5" x2="158.83" y2="223.5" stroke="#a0a0a0" stroke-width="0.9" stroke-dasharray="1.4 1.8"/>
<path d="M33.5 169.42 33.7 183.9 33.9 178.72 34.1 172.58 34.3 199.88 34.5 179.76 34.7 170.61 34.9 195.53 35.1 173.33 35.3 180.49 35.5 174.71 35.7 173.79 35.9 175.88 36.1 169.52 36.3 162.28 36.5 165.25 36.7 170.65 36.9 162.09 37.11 160.12 37.31 152.89 37.51 158.64 37.71 165.03 37.91 152.93 38.11 151.56 38.31 170.83 38.51 147.89 38.71 143.63 38.91 151.29 39.11 143.35 39.31 165.18 39.51 143.45 39.71 141.73 39.91 142.31 40.11 152.51 40.31 145.16 40.51 153.68 40.71 147.37 40.91 160.29 41.11 159.52 41.31 139.34 41.51 139.99 41.71 154.39 41.91 138.47 42.11 157.45 42.31 139.22 42.51 157.57 42.71 145.19 42.91 137.8 43.11 148.38 43.31 148.89 43.51 140.8 43.71 139.52 43.91 152.07 44.12 152.13 44.32 160.72 44.52 152.1 44.72 143.06 44.92 159.07 45.12 136.68 45.32 146.61 45.52 139.23 45.72 144.31 45.92 141.04 46.12 134.75 46.32 140.93 46.52 151.34 46.72 141.51 46.92 138.97 47.12 151.48 47.32 163.94 47.52 137.78 47.72 141.56 47.92 147.28 48.12 145.67 48.32 147.39 48.52 149.82 48.72 156.63 48.92 148.67 49.12 149.41 49.32 152 49.52 156.1 49.72 141.27 49.92 141.59 50.12 140.64 50.32 141.5 50.52 146.28 50.72 142.04 50.92 150.39 51.12 168.05 51.33 161.8 51.53 155.97 51.73 150.53 51.93 146.57 52.13 151.35 52.33 145.11 52.53 150.44 52.73 151.52 52.93 152.84 53.13 144 53.33 147.74 53.53 162.55 53.73 162.52 53.93 145.48 54.13 143.45 54.33 153.04 54.53 166.83 54.73 157.27 54.93 163.41 55.13 147.74 55.33 145.82 55.53 160.15 55.73 148.67 55.93 151.29 56.13 146.88 56.33 144.47 56.53 145.25 56.73 166.16 56.93 166.55 57.13 141.74 57.33 143.54 57.53 147.78 57.73 144.69 57.93 145.01 58.13 152.56 58.34 151.77 58.54 150.8 58.74 154.06 58.94 157.95 59.14 167.24 59.34 147.16 59.54 176.07 59.74 148.75 59.94 145.85 60.14 151.66 60.34 169.59 60.54 147.66 60.74 151.67 60.94 161.22 61.14 174.6 61.34 153.65 61.54 143.08 61.74 146.5 61.94 149.29 62.14 145.54 62.34 157.68 62.54 168.74 62.74 144.1 62.94 157.71 63.14 174.41 63.34 151.85 63.54 151.42 63.74 145.19 63.94 156.17 64.14 149.43 64.34 155.27 64.54 156.66 64.74 146.26 64.94 145.6 65.14 145.39 65.35 168.74 65.55 166.29 65.75 145.2 65.95 162.81 66.15 153.73 66.35 153.81 66.55 150.17 66.75 151.64 66.95 153.62 67.15 154.99 67.35 161.84 67.55 148.3 67.75 154.49 67.95 154.79 68.15 148.38 68.35 155.94 68.55 160.04 68.75 143.32 68.95 168.97 69.15 149.99 69.35 154.59 69.55 167.34 69.75 150.31 69.95 147.61 70.15 149.26 70.35 143.16 70.55 152.9 70.75 154.89 70.95 162.28 71.15 148.42 71.35 141.46 71.55 143.58 71.75 149.2 71.95 152.35 72.15 146.3 72.36 142.63 72.56 143.33 72.76 152.38 72.96 143.19 73.16 161.02 73.36 169.21 73.56 151.64 73.76 170.48 73.96 144.48 74.16 150.18 74.36 153.04 74.56 149.98 74.76 147.84 74.96 152.41 75.16 145.43 75.36 167.53 75.56 149.34 75.76 170.77 75.96 179.71 76.16 157.94 76.36 147.42 76.56 148.16 76.76 171.91 76.96 157.53 77.16 151.56 77.36 153.53 77.56 148.92 77.76 163.1 77.96 160.75 78.16 155.07 78.36 152.95 78.56 175.53 78.76 159.37 78.96 164.54 79.16 160.95 79.37 160.55 79.57 161.2 79.77 168.9 79.97 161 80.17 171.64 80.37 165.6 80.57 153.57 80.77 163.5 80.97 155.17 81.17 161.7 81.37 178.25 81.57 165.45 81.77 159.88 81.97 168.96 82.17 172.35 82.37 158.08 82.57 188.36 82.77 167.73 82.97 159.87 83.17 162.35 83.37 169.83 83.57 164.5 83.77 165.55 83.97 169.02 84.17 168.45 84.37 158.52 84.57 168.55 84.77 179.43 84.97 184.34 85.17 178.18 85.37 168.81 85.57 174.25 85.77 167.55 85.97 159.26 86.17 165.55 86.38 164.42 86.58 178.68 86.78 160.29 86.98 174.05 87.18 156.92 87.38 168.82 87.58 171.41 87.78 161.22 87.98 182.54 88.18 168.04 88.38 160.41 88.58 161.44 88.78 170.01 88.98 161.32 89.18 182.41 89.38 161.6 89.58 161.55 89.78 162.29 89.98 159.02 90.18 162.71 90.38 181.65 90.58 166.58 90.78 167.85 90.98 173.97 91.18 182.42 91.38 181.22 91.58 162.51 91.78 162.46 91.98 172.97 92.18 161.84 92.38 180.92 92.58 172.79 92.78 167.32 92.98 165.94 93.18 165.7 93.38 168.38 93.59 176.85 93.79 170.05 93.99 159.86 94.19 182.79 94.39 159.83 94.59 182.75 94.79 173.22 94.99 165.11 95.19 185.29 95.39 162.46 95.59 155.58 95.79 177.23 95.99 163.13 96.19 157.22 96.39 174.53 96.59 157.67 96.79 163.38 96.99 166.44 97.19 157.82 97.39 155.66 97.59 175.67 97.79 163.82 97.99 161.08 98.19 157.36 98.39 161.42 98.59 152 98.79 164.21 98.99 165.14 99.19 154.1 99.39 153.68 99.59 161.77 99.79 159.63 99.99 196.24 100.19 170 100.39 178.86 100.6 165.47 100.8 158.59 101 162.61 101.2 155.92 101.4 172.61 101.6 162.03 101.8 163.81 102 176.79 102.2 157.97 102.4 163.91 102.6 168.56 102.8 160.21 103 169.7 103.2 167.14 103.4 167.11 103.6 163.13 103.8 174.73 104 167.06 104.2 192.88 104.4 181.21 104.6 184.12 104.8 161.65 105 162.57 105.2 190.7 105.4 185.49 105.6 180.86 105.8 165.26 106 181.49 106.2 179.85 106.4 176.37 106.6 168.01 106.8 170.35 107 178.41 107.2 172.65 107.4 173.29 107.61 185.17 107.81 175.56 108.01 169.53 108.21 171.02 108.41 169.19 108.61 192.51 108.81 168.17 109.01 180.79 109.21 178.33 109.41 191.69 109.61 172.2 109.81 177.92 110.01 171.69 110.21 169.09 110.41 189.95 110.61 170.53 110.81 173.42 111.01 196.09 111.21 174.17 111.41 181.27 111.61 175.88 111.81 167.58 112.01 167.75 112.21 171.78 112.41 183.81 112.61 189.52 112.81 219.7 113.01 175.35 113.21 169.03 113.41 189.44 113.61 170.72 113.81 194.75 114.01 174.16 114.21 174.96 114.41 179.59 114.62 176.51 114.82 193.66 115.02 184.6 115.22 197.2 115.42 187.96 115.62 174.6 115.82 177.75 116.02 176.56 116.22 182.37 116.42 172.72 116.62 171.12 116.82 184.35 117.02 180.99 117.22 185.67 117.42 178.84 117.62 176.09 117.82 174.02 118.02 195.03 118.22 174.82 118.42 188.6 118.62 176.88 118.82 178.7 119.02 201.33 119.22 176.18 119.42 181.7 119.62 192.22 119.82 191.97 120.02 180.37 120.22 179.89 120.42 181.46 120.62 184.31 120.82 183.45 121.02 177.35 121.22 182.43 121.42 181.82 121.62 200.12 121.83 183.54 122.03 202.33 122.23 208.05 122.43 187.96 122.63 184.24 122.83 184.78 123.03 197.96 123.23 206.41 123.43 192.5 123.63 190.73 123.83 206.44 124.03 184.21 124.23 191.43 124.43 208.11 124.63 196.48 124.83 206.8 125.03 195.42 125.23 212.95 125.43 188.9 125.63 187.53 125.83 194.98 126.03 193.44 126.23 196.36 126.43 198.83 126.63 185.24 126.83 188.54 127.03 202.26 127.23 199.79 127.43 198.07 127.63 201 127.83 198.06 128.03 197.11 128.23 211.2 128.43 187.23 128.63 195.35 128.84 188.19 129.04 210.67 129.24 183.33 129.44 206.63 129.64 196.91 129.84 188.22 130.04 189.85 130.24 183.12 130.44 179.44 130.64 185.46 130.84 190.75 131.04 198.69 131.24 191.77 131.44 197 131.64 186.97 131.84 196.76 132.04 178.15 132.24 186.99 132.44 185.99 132.64 181.65 132.84 214.08 133.04 181.02 133.24 193.7 133.44 182.29 133.64 187.04 133.84 185.61 134.04 183.66 134.24 196.17 134.44 184.65 134.64 179.2 134.84 209.33 135.04 199.33 135.24 176.66 135.44 182.13 135.64 189.5 135.85 189.38 136.05 193.15 136.25 178.8 136.45 196.46 136.65 185.1 136.85 186.67 137.05 190.92 137.25 184.14 137.45 220.76 137.65 191.82 137.85 197.85 138.05 182.77 138.25 183.17 138.45 181.95 138.65 183.39 138.85 202.07 139.05 206.25 139.25 194.08 139.45 195.62 139.65 190.3 139.85 185.79 140.05 197.86 140.25 200.63 140.45 192.73 140.65 188.74 140.85 185.35 141.05 193.8 141.25 210.19 141.45 199.69 141.65 199.48 141.85 197.06 142.05 185.05 142.25 211.94 142.45 205.13 142.65 196.84 142.86 185.83 143.06 199.41 143.26 192.44 143.46 191.96 143.66 207.28 143.86 187.28 144.06 197.23 144.26 191.08 144.46 182.58 144.66 191.33 144.86 196.16 145.06 213.09 145.26 189.01 145.46 185.77 145.66 191.94 145.86 186.97 146.06 184.59 146.26 179.87 146.46 183.96 146.66 185.33 146.86 199.14 147.06 197.23 147.26 194.5 147.46 176.4 147.66 175.86 147.86 185.68 148.06 188.66 148.26 207.22 148.46 182.83 148.66 181.84 148.86 182.33 149.06 176.38 149.26 185.6 149.46 184.1 149.66 191.26 149.87 181.17 150.07 188.65 150.27 173.84 150.47 189.79 150.67 185.57 150.87 183.07 151.07 189.07 151.27 182.65 151.47 187.46 151.67 183.47 151.87 188.46 152.07 187.7 152.27 193.73 152.47 178.92 152.67 178.1 152.87 185.82 153.07 176.94 153.27 179.74 153.47 203.18 153.67 176.1 153.87 177.74 154.07 191.07 154.27 179.19 154.47 191.9 154.67 184.75 154.87 184.13 155.07 181 155.27 185.99 155.47 193.6 155.67 191.99 155.87 190.29 156.07 183.05 156.27 223.24 156.47 184.73 156.67 190.32 156.88 180.47 157.08 198.78 157.28 182.58 157.48 190.01 157.68 181.64 157.88 199.81 158.08 187.76 158.28 191.48 158.48 179.8 158.68 186.75 158.88 178.03 159.08 189.26 159.28 189.76 159.48 179.32 159.68 189.5 159.88 189.73 160.08 203.68 160.28 189.38 160.48 181.2 160.68 188.91 160.88 186.99 161.08 189.66 161.28 180.12 161.48 181.09 161.68 202.05 161.88 184.53 162.08 183.16 162.28 182.98 162.48 180.61 162.68 183.49 162.88 183.09 163.08 191.28 163.28 200.68 163.48 180.92 163.68 186.25 163.88 189.44 164.09 188.58 164.29 188.97 164.49 187.51 164.69 195.46 164.89 221.15 165.09 190.91 165.29 187.21 165.49 185.6 165.69 197.96 165.89 217.62 166.09 185.52 166.29 186.36 166.49 195.67 166.69 220.69 166.89 189.19 167.09 199.73 167.29 203.22 167.49 185.33 167.69 187.49 167.89 190.63 168.09 194.23 168.29 188.11 168.49 204.15 168.69 192.39 168.89 191.38 169.09 195.41 169.29 197.9 169.49 189.93 169.69 189.23 169.89 195.37 170.09 205.43 170.29 207.55 170.49 205.99 170.69 194.15 170.89 188.55 171.1 204.92 171.3 199.4 171.5 196.69 171.7 190.98 171.9 208.42 172.1 200.65 172.3 199.65 172.5 185.2 172.7 202.65 172.9 188.09 173.1 202.51 173.3 200.81 173.5 184.74 173.7 199.22 173.9 191.33 174.1 191.2 174.3 195.54 174.5 194.97" fill="none" stroke="#000" stroke-width="0.22" clip-path="url(#cp10)"/>
<path d="M33.5 132.4 33.84 132.49 34.3 132.62 34.84 132.78 35.44 132.94 36.08 133.11 36.73 133.25 37.38 133.35 38 133.4 38.6 133.4 39.21 133.37 39.84 133.31 40.47 133.22 41.1 133.12 41.74 132.99 42.37 132.85 43 132.7 43.62 132.52 44.25 132.32 44.88 132.08 45.5 131.84 46.12 131.59 46.75 131.34 47.38 131.11 48 130.9 48.64 130.7 49.3 130.51 49.96 130.32 50.62 130.14 51.27 129.97 51.89 129.82 52.47 129.7 53 129.6 53.47 129.53 53.89 129.47 54.27 129.44 54.62 129.42 54.96 129.43 55.3 129.46 55.64 129.52 56 129.6 56.37 129.7 56.73 129.83 57.08 129.98 57.44 130.16 57.8 130.35 58.18 130.58 58.58 130.83 59 131.1 59.47 131.42 59.98 131.8 60.51 132.21 61.06 132.64 61.6 133.07 62.12 133.49 62.59 133.87 63 134.2 63.34 134.48 63.62 134.71 63.85 134.92 64.06 135.11 64.26 135.29 64.48 135.47 64.72 135.67 65 135.9 65.33 136.16 65.7 136.44 66.1 136.73 66.5 137.02 66.9 137.32 67.3 137.6 67.67 137.86 68 138.1 68.28 138.3 68.5 138.47 68.69 138.61 68.88 138.75 69.07 138.89 69.31 139.03 69.61 139.2 70 139.4 70.48 139.64 71.04 139.91 71.66 140.19 72.31 140.49 72.99 140.79 73.68 141.09 74.35 141.36 75 141.6 75.62 141.82 76.25 142.02 76.88 142.21 77.5 142.39 78.12 142.56 78.75 142.72 79.38 142.86 80 143 80.62 143.12 81.25 143.22 81.88 143.31 82.5 143.39 83.12 143.46 83.75 143.53 84.38 143.61 85 143.7 85.62 143.79 86.25 143.86 86.88 143.94 87.5 144.01 88.12 144.1 88.75 144.21 89.38 144.34 90 144.5 90.62 144.69 91.25 144.88 91.88 145.1 92.5 145.33 93.12 145.59 93.75 145.89 94.38 146.22 95 146.6 95.62 147.03 96.25 147.51 96.88 148.03 97.5 148.59 98.12 149.16 98.75 149.75 99.38 150.33 100 150.9 100.62 151.48 101.25 152.07 101.88 152.68 102.5 153.29 103.12 153.89 103.75 154.49 104.38 155.06 105 155.6 105.6 156.11 106.18 156.58 106.74 157.03 107.31 157.47 107.91 157.91 108.54 158.36 109.23 158.82 110 159.3 110.84 159.81 111.74 160.33 112.69 160.87 113.69 161.41 114.72 161.96 115.79 162.51 116.88 163.06 118 163.6 119.15 164.15 120.36 164.72 121.6 165.29 122.88 165.86 124.16 166.42 125.45 166.95 126.74 167.45 128 167.9 129.25 168.31 130.5 168.69 131.75 169.04 133 169.36 134.25 169.65 135.5 169.92 136.75 170.17 138 170.4 139.25 170.61 140.5 170.79 141.75 170.95 143 171.08 144.25 171.19 145.5 171.28 146.75 171.35 148 171.4 149.25 171.41 150.5 171.37 151.75 171.3 153 171.22 154.25 171.13 155.5 171.06 156.75 171.01 158 171 159.27 171.03 160.58 171.06 161.9 171.12 163.22 171.19 164.51 171.29 165.75 171.4 166.92 171.54 168 171.7 169.02 171.91 170.02 172.18 170.98 172.48 171.88 172.79 172.69 173.1 173.41 173.39 174.02 173.63 174.5 173.8" fill="none" stroke="#f07070" stroke-width="0.95" clip-path="url(#cp10)"/>
<rect x="33.5" y="129.5" width="141.0" height="94" fill="none" stroke="#8c8c8c" stroke-width="0.9"/>
<line x1="33.5" y1="223.5" x2="33.5" y2="224.7" stroke="#777" stroke-width="0.8"/>
<text transform="translate(33.5,231.4) scale(0.25,0.27)" font-size="26" text-anchor="middle">1000</text>
<line x1="49.17" y1="223.5" x2="49.17" y2="224.7" stroke="#777" stroke-width="0.8"/>
<text transform="translate(49.17,231.4) scale(0.25,0.27)" font-size="26" text-anchor="middle">2000</text>
<line x1="64.83" y1="223.5" x2="64.83" y2="224.7" stroke="#777" stroke-width="0.8"/>
<text transform="translate(64.83,231.4) scale(0.25,0.27)" font-size="26" text-anchor="middle">3000</text>
<line x1="80.5" y1="223.5" x2="80.5" y2="224.7" stroke="#777" stroke-width="0.8"/>
<text transform="translate(80.5,231.4) scale(0.25,0.27)" font-size="26" text-anchor="middle">4000</text>
<line x1="96.17" y1="223.5" x2="96.17" y2="224.7" stroke="#777" stroke-width="0.8"/>
<text transform="translate(96.17,231.4) scale(0.25,0.27)" font-size="26" text-anchor="middle">5000</text>
<line x1="111.83" y1="223.5" x2="111.83" y2="224.7" stroke="#777" stroke-width="0.8"/>
<text transform="translate(111.83,231.4) scale(0.25,0.27)" font-size="26" text-anchor="middle">6000</text>
<line x1="127.5" y1="223.5" x2="127.5" y2="224.7" stroke="#777" stroke-width="0.8"/>
<text transform="translate(127.5,231.4) scale(0.25,0.27)" font-size="26" text-anchor="middle">7000</text>
<line x1="143.17" y1="223.5" x2="143.17" y2="224.7" stroke="#777" stroke-width="0.8"/>
<text transform="translate(143.17,231.4) scale(0.25,0.27)" font-size="26" text-anchor="middle">8000</text>
<line x1="158.83" y1="223.5" x2="158.83" y2="224.7" stroke="#777" stroke-width="0.8"/>
<text transform="translate(158.83,231.4) scale(0.25,0.27)" font-size="26" text-anchor="middle">9000</text>
<line x1="174.5" y1="223.5" x2="174.5" y2="224.7" stroke="#777" stroke-width="0.8"/>
<text transform="translate(173.3,231.4) scale(0.25,0.27)" font-size="26" text-anchor="middle">10</text><text transform="translate(176.5,228.5) scale(0.25,0.28)" font-size="17.2" text-anchor="start">4</text>
<text transform="translate(104,238.5) scale(0.25,0.29)" font-size="24.8" text-anchor="middle">Frequency (Hz)</text>
<line x1="32.3" y1="145.3" x2="33.5" y2="145.3" stroke="#777" stroke-width="0.8"/>
<text transform="translate(31.3,147.7) scale(0.25,0.27)" font-size="26" text-anchor="end">20</text>
<line x1="32.3" y1="176.7" x2="33.5" y2="176.7" stroke="#777" stroke-width="0.8"/>
<text transform="translate(31.3,179.1) scale(0.25,0.27)" font-size="26" text-anchor="end">0</text>
<line x1="32.3" y1="208.1" x2="33.5" y2="208.1" stroke="#777" stroke-width="0.8"/>
<text transform="translate(31.3,210.5) scale(0.25,0.27)" font-size="26" text-anchor="end">–20</text>
<text transform="translate(18.3,176) rotate(-90) scale(0.25,0.33)" font-size="24" text-anchor="middle">Sound pressure level (dB / Hz)</text>
<line x1="235.83" y1="130.5" x2="235.83" y2="223.5" stroke="#8a8a8a" stroke-width="0.9" stroke-dasharray="1.4 1.8"/>
<line x1="282.83" y1="130.5" x2="282.83" y2="223.5" stroke="#8a8a8a" stroke-width="0.9" stroke-dasharray="1.4 1.8"/>
<line x1="314.17" y1="130.5" x2="314.17" y2="223.5" stroke="#c8c8c8" stroke-width="0.9" stroke-dasharray="1.4 1.8"/>
<line x1="329.83" y1="130.5" x2="329.83" y2="223.5" stroke="#a0a0a0" stroke-width="0.9" stroke-dasharray="1.4 1.8"/>
<path d="M204.5 156.59 204.7 170.13 204.9 169.49 205.1 161.47 205.3 167.64 205.5 163.6 205.7 172.58 205.9 184.39 206.1 165.98 206.3 180.15 206.5 175.96 206.7 158.57 206.9 177.5 207.1 173.72 207.3 172.72 207.5 156.43 207.7 156.53 207.9 172.28 208.11 169.41 208.31 153.21 208.51 157.31 208.71 162.63 208.91 150.93 209.11 144.4 209.31 173.49 209.51 148.57 209.71 148.61 209.91 153.21 210.11 135.25 210.31 137.96 210.51 150.39 210.71 134.13 210.91 157.27 211.11 131.41 211.31 144.72 211.51 139.28 211.71 136.39 211.91 136.11 212.11 132.89 212.31 139.53 212.51 150.54 212.71 132.45 212.91 134.13 213.11 136.02 213.31 131.88 213.51 155.63 213.71 140.37 213.91 133.44 214.11 131.08 214.31 132.91 214.51 168.14 214.71 156.04 214.91 135.16 215.12 135.51 215.32 129.79 215.52 134.93 215.72 135.01 215.92 129.94 216.12 131.54 216.32 145.63 216.52 157.52 216.72 149.88 216.92 136.31 217.12 140.24 217.32 136.61 217.52 148.09 217.72 162.66 217.92 135.91 218.12 147.79 218.32 139.93 218.52 144.55 218.72 145.31 218.92 149.25 219.12 143.85 219.32 143.22 219.52 147.28 219.72 144.46 219.92 144.91 220.12 151.5 220.32 146.05 220.52 146.48 220.72 151.29 220.92 157.8 221.12 150.67 221.32 162.07 221.52 154.84 221.72 167.64 221.92 150.03 222.12 166.15 222.33 151.56 222.53 154.88 222.73 151.27 222.93 159.38 223.13 162.41 223.33 158.94 223.53 151.54 223.73 160.75 223.93 147.74 224.13 150.2 224.33 150.06 224.53 147.48 224.73 162.86 224.93 147.68 225.13 149.93 225.33 154.81 225.53 151.05 225.73 163.2 225.93 145.58 226.13 147.44 226.33 155.14 226.53 151.64 226.73 151.61 226.93 177.88 227.13 161.89 227.33 168.54 227.53 154.72 227.73 157.98 227.93 156.89 228.13 167.56 228.33 158.31 228.53 143.44 228.73 154.93 228.93 143.74 229.13 148.68 229.34 144.65 229.54 151.06 229.74 153.4 229.94 154.27 230.14 158.89 230.34 151.95 230.54 150.51 230.74 171.34 230.94 145.7 231.14 162.66 231.34 149.42 231.54 143.93 231.74 149.78 231.94 147.08 232.14 148.46 232.34 154.24 232.54 142.74 232.74 178.45 232.94 153.35 233.14 162.77 233.34 144.19 233.54 147.33 233.74 153.28 233.94 161.62 234.14 145.51 234.34 148.61 234.54 155.1 234.74 147.14 234.94 168.47 235.14 146.95 235.34 145.01 235.54 146.31 235.74 164.94 235.94 146.91 236.14 166.91 236.35 147.4 236.55 159.75 236.75 144.53 236.95 147.15 237.15 143.56 237.35 158.49 237.55 146.95 237.75 164.5 237.95 166.9 238.15 151.38 238.35 144.99 238.55 145.26 238.75 172.84 238.95 158.66 239.15 171.78 239.35 150.45 239.55 150.81 239.75 165.35 239.95 148.05 240.15 159.42 240.35 167.5 240.55 162.38 240.75 151.24 240.95 171.05 241.15 153.95 241.35 168.4 241.55 146.86 241.75 148.28 241.95 158.08 242.15 147.44 242.35 149.31 242.55 170.32 242.75 157.52 242.95 164.74 243.15 150.25 243.36 147.99 243.56 154.81 243.76 150.03 243.96 152.66 244.16 161.03 244.36 146.43 244.56 164.39 244.76 170.52 244.96 149.19 245.16 157.07 245.36 157.26 245.56 150.98 245.76 153.7 245.96 174.78 246.16 174.68 246.36 169.69 246.56 151.35 246.76 154.78 246.96 168.43 247.16 150.96 247.36 159 247.56 149.56 247.76 164.35 247.96 154.37 248.16 186.04 248.36 185.42 248.56 159.2 248.76 166.87 248.96 180.45 249.16 150.04 249.36 158.74 249.56 155.42 249.76 162.43 249.96 166.07 250.16 160.55 250.37 164.91 250.57 155.8 250.77 169.94 250.97 164.45 251.17 160.46 251.37 153.83 251.57 152.59 251.77 161.43 251.97 151.99 252.17 178.6 252.37 173.4 252.57 170.26 252.77 161.5 252.97 160.56 253.17 156.92 253.37 159.79 253.57 162.21 253.77 172.32 253.97 154.35 254.17 157.68 254.37 173.31 254.57 155.51 254.77 166.32 254.97 170.87 255.17 181.37 255.37 156.55 255.57 159.98 255.77 167.78 255.97 154.91 256.17 154.46 256.37 163.35 256.57 154.88 256.77 166.62 256.97 161.48 257.17 157.23 257.38 163.45 257.58 160.34 257.78 151.03 257.98 158.57 258.18 153.02 258.38 163.19 258.58 163.85 258.78 150.78 258.98 158.82 259.18 162.7 259.38 167.05 259.58 191.64 259.78 159.93 259.98 157 260.18 170.84 260.38 170.97 260.58 154.73 260.78 167.2 260.98 164.6 261.18 171.8 261.38 152.63 261.58 156.31 261.78 173.32 261.98 159.93 262.18 160.67 262.38 152.9 262.58 155.95 262.78 168.34 262.98 154.81 263.18 164.71 263.38 162.3 263.58 158.78 263.78 155.05 263.98 168.86 264.18 155.91 264.38 168.1 264.59 160.72 264.79 171.79 264.99 156.22 265.19 152.75 265.39 153.66 265.59 158.29 265.79 147.96 265.99 145.88 266.19 155.32 266.39 163.12 266.59 152.55 266.79 163.08 266.99 147.89 267.19 148.56 267.39 172.36 267.59 161.28 267.79 153.85 267.99 158.16 268.19 161.93 268.39 163 268.59 171.74 268.79 154.45 268.99 161.64 269.19 163.25 269.39 161.82 269.59 151.57 269.79 167.25 269.99 149.46 270.19 149.21 270.39 153.91 270.59 157.73 270.79 146.6 270.99 160.11 271.19 158.78 271.39 146.82 271.6 197.62 271.8 153.54 272 172.26 272.2 154.43 272.4 155.21 272.6 149.58 272.8 161.95 273 144.71 273.2 148.97 273.4 148.93 273.6 164.19 273.8 160 274 149.49 274.2 160.95 274.4 151.18 274.6 157.12 274.8 157.31 275 152.35 275.2 156.59 275.4 161.59 275.6 156.07 275.8 157.44 276 149.26 276.2 155.15 276.4 150.23 276.6 150.42 276.8 171.24 277 153.16 277.2 151.06 277.4 157.89 277.6 163.9 277.8 154.47 278 180.96 278.2 159.48 278.4 158.21 278.61 177.91 278.81 185.96 279.01 165.86 279.21 166.04 279.41 171.45 279.61 176.03 279.81 181.57 280.01 159.37 280.21 173.35 280.41 173.6 280.61 176.28 280.81 169.27 281.01 189.43 281.21 174.14 281.41 170.77 281.61 168.97 281.81 175.88 282.01 187.85 282.21 172.21 282.41 165.3 282.61 165.81 282.81 165.23 283.01 168.97 283.21 165.42 283.41 164.07 283.61 166.67 283.81 167.01 284.01 175.08 284.21 184.33 284.41 173.61 284.61 183.7 284.81 177.58 285.01 172.02 285.21 181.87 285.41 169.23 285.62 164.94 285.82 175.51 286.02 171.77 286.22 178.88 286.42 175.9 286.62 182.25 286.82 172.58 287.02 186.18 287.22 189.59 287.42 185.8 287.62 178.72 287.82 172.63 288.02 178.02 288.22 186.57 288.42 185.41 288.62 168.63 288.82 168.81 289.02 183.37 289.22 170.37 289.42 177.59 289.62 168.2 289.82 184.54 290.02 185.41 290.22 174.17 290.42 170.86 290.62 171.91 290.82 190.84 291.02 168.5 291.22 188.45 291.42 192.37 291.62 172.03 291.82 181.4 292.02 176.09 292.22 184.62 292.42 180.04 292.62 181.33 292.83 173.37 293.03 185.35 293.23 187.74 293.43 171.54 293.63 171.25 293.83 197.54 294.03 169.53 294.23 172.77 294.43 169.96 294.63 177.82 294.83 177.97 295.03 173.45 295.23 168.28 295.43 172.19 295.63 173.53 295.83 170.83 296.03 172.8 296.23 182.3 296.43 169.74 296.63 180.9 296.83 170.23 297.03 191.92 297.23 185.71 297.43 178.15 297.63 169.6 297.83 177.69 298.03 201.94 298.23 190.17 298.43 176.22 298.63 179.35 298.83 178.95 299.03 197.09 299.23 177.31 299.43 182.05 299.63 180.47 299.84 185.04 300.04 172.97 300.24 171.62 300.44 176.61 300.64 189.86 300.84 174.31 301.04 178.47 301.24 186.97 301.44 171.81 301.64 177.77 301.84 168.6 302.04 206.29 302.24 173.33 302.44 176.71 302.64 181.75 302.84 182.4 303.04 187.13 303.24 176.04 303.44 180.01 303.64 186.8 303.84 169.36 304.04 186.18 304.24 171.97 304.44 193.04 304.64 171.01 304.84 176.29 305.04 179.84 305.24 180.91 305.44 174.01 305.64 223.5 305.84 184.29 306.04 173.95 306.24 187.6 306.44 189.69 306.64 180.64 306.85 172.6 307.05 174.2 307.25 187.44 307.45 195.29 307.65 176.41 307.85 185.7 308.05 190.95 308.25 183.98 308.45 191.55 308.65 183.7 308.85 175.99 309.05 190.38 309.25 190.59 309.45 185.09 309.65 208.93 309.85 189.41 310.05 175.51 310.25 184.7 310.45 180.03 310.65 182.52 310.85 180.67 311.05 187.94 311.25 181.98 311.45 193.34 311.65 189.02 311.85 178.2 312.05 198.27 312.25 191.61 312.45 188.4 312.65 186.43 312.85 175.87 313.05 174.53 313.25 200.46 313.45 183.71 313.65 179.7 313.86 187.99 314.06 174.27 314.26 177.07 314.46 175.86 314.66 170.27 314.86 191.95 315.06 172.98 315.26 192.17 315.46 181.69 315.66 173.96 315.86 168.77 316.06 173.87 316.26 192.18 316.46 170.47 316.66 181.99 316.86 174 317.06 171.63 317.26 174.8 317.46 186.75 317.66 185.04 317.86 173 318.06 165.16 318.26 181.08 318.46 177.37 318.66 173.95 318.86 171.58 319.06 167.33 319.26 183.91 319.46 164.24 319.66 187.03 319.86 173.38 320.06 174.4 320.26 191.43 320.46 173.25 320.66 170.34 320.87 176.7 321.07 174.35 321.27 213.89 321.47 183.22 321.67 173.43 321.87 194.81 322.07 182.97 322.27 178.13 322.47 201.44 322.67 190.33 322.87 176.61 323.07 177.13 323.27 196.54 323.47 191.81 323.67 194.72 323.87 193.34 324.07 183.29 324.27 185.43 324.47 182.45 324.67 198.7 324.87 180.07 325.07 188.09 325.27 179.72 325.47 190.72 325.67 182 325.87 192.07 326.07 184.45 326.27 200.61 326.47 192.5 326.67 192.78 326.87 187.92 327.07 183.42 327.27 180.75 327.47 197.51 327.67 201.52 327.88 196.09 328.08 186.01 328.28 202.3 328.48 199.87 328.68 198.99 328.88 180.16 329.08 184.9 329.28 188.13 329.48 194.76 329.68 181.9 329.88 192.39 330.08 190.5 330.28 188.33 330.48 203.77 330.68 202.09 330.88 190.99 331.08 190.7 331.28 210.36 331.48 180.59 331.68 194.73 331.88 197.62 332.08 205.25 332.28 180.04 332.48 189.19 332.68 207.21 332.88 181.81 333.08 181.99 333.28 190.17 333.48 203.7 333.68 200.46 333.88 183.01 334.08 183.89 334.28 186.07 334.48 190.09 334.68 193.57 334.88 191.4 335.09 180.92 335.29 181.35 335.49 191.55 335.69 189.58 335.89 185.37 336.09 179.66 336.29 185.04 336.49 195.93 336.69 183.69 336.89 201.83 337.09 186.01 337.29 176.67 337.49 189.3 337.69 179.33 337.89 181.55 338.09 187.57 338.29 199.65 338.49 185.58 338.69 194.28 338.89 186.02 339.09 187.43 339.29 178.98 339.49 194.76 339.69 178.18 339.89 205.04 340.09 181.44 340.29 175.87 340.49 195.17 340.69 175.32 340.89 198.21 341.09 175.6 341.29 215.91 341.49 179.99 341.69 183.63 341.89 192.24 342.1 181.77 342.3 185.92 342.5 179.95 342.7 180.14 342.9 175.9 343.1 185.76 343.3 184.77 343.5 184.25 343.7 195.82 343.9 185.91 344.1 184.62 344.3 177.31 344.5 187.69 344.7 176.7 344.9 180.91 345.1 189.39 345.3 176.25 345.5 188.49" fill="none" stroke="#000" stroke-width="0.22" clip-path="url(#cp11)"/>
<path d="M204.5 129.5 204.77 129.56 205.12 129.65 205.53 129.75 206 129.86 206.5 129.97 207.01 130.09 207.51 130.2 208 130.3 208.48 130.4 208.96 130.5 209.46 130.6 209.97 130.69 210.48 130.79 210.99 130.87 211.5 130.94 212 131 212.5 131.04 213 131.08 213.5 131.1 214 131.12 214.5 131.13 215 131.12 215.5 131.12 216 131.1 216.49 131.08 216.95 131.04 217.41 131 217.88 130.95 218.35 130.89 218.86 130.83 219.4 130.77 220 130.7 220.67 130.62 221.41 130.53 222.19 130.42 223 130.31 223.81 130.21 224.59 130.12 225.33 130.05 226 130 226.59 129.97 227.12 129.95 227.6 129.94 228.06 129.94 228.51 129.97 228.98 130.02 229.47 130.09 230 130.2 230.58 130.34 231.18 130.52 231.8 130.72 232.44 130.94 233.08 131.19 233.73 131.45 234.37 131.72 235 132 235.62 132.29 236.25 132.61 236.88 132.94 237.5 133.29 238.12 133.64 238.75 134 239.38 134.35 240 134.7 240.62 135.05 241.25 135.41 241.88 135.77 242.5 136.14 243.12 136.5 243.75 136.85 244.38 137.18 245 137.5 245.62 137.81 246.25 138.11 246.88 138.4 247.5 138.68 248.12 138.95 248.75 139.19 249.38 139.41 250 139.6 250.62 139.76 251.25 139.89 251.88 140 252.5 140.08 253.12 140.15 253.75 140.21 254.38 140.26 255 140.3 255.62 140.34 256.25 140.37 256.88 140.38 257.5 140.39 258.12 140.38 258.75 140.37 259.38 140.34 260 140.3 260.62 140.24 261.25 140.16 261.88 140.07 262.5 139.97 263.12 139.86 263.75 139.76 264.38 139.67 265 139.6 265.64 139.54 266.3 139.47 266.96 139.41 267.62 139.35 268.27 139.31 268.89 139.28 269.47 139.28 270 139.3 270.47 139.34 270.89 139.41 271.27 139.48 271.62 139.58 271.96 139.7 272.3 139.84 272.64 140.01 273 140.2 273.37 140.42 273.73 140.67 274.08 140.94 274.44 141.24 274.8 141.55 275.18 141.89 275.58 142.24 276 142.6 276.45 142.99 276.93 143.4 277.43 143.84 277.94 144.29 278.46 144.75 278.98 145.21 279.49 145.66 280 146.1 280.51 146.53 281.02 146.96 281.54 147.38 282.06 147.81 282.57 148.22 283.07 148.63 283.55 149.02 284 149.4 284.42 149.76 284.82 150.1 285.2 150.43 285.56 150.75 285.92 151.06 286.27 151.37 286.63 151.68 287 152 287.37 152.32 287.73 152.63 288.08 152.95 288.44 153.26 288.8 153.57 289.18 153.88 289.58 154.19 290 154.5 290.44 154.8 290.88 155.08 291.34 155.35 291.81 155.63 292.31 155.92 292.84 156.22 293.4 156.54 294 156.9 294.65 157.3 295.34 157.74 296.06 158.2 296.81 158.68 297.59 159.16 298.38 159.64 299.19 160.08 300 160.5 300.83 160.88 301.68 161.25 302.55 161.6 303.44 161.94 304.33 162.26 305.23 162.58 306.12 162.89 307 163.2 307.88 163.51 308.77 163.82 309.67 164.12 310.56 164.42 311.45 164.7 312.32 164.96 313.17 165.2 314 165.4 314.79 165.57 315.55 165.71 316.28 165.82 317 165.92 317.72 166 318.45 166.07 319.21 166.13 320 166.2 320.83 166.27 321.68 166.33 322.55 166.39 323.44 166.44 324.33 166.48 325.23 166.51 326.12 166.51 327 166.5 327.88 166.46 328.77 166.41 329.67 166.34 330.56 166.25 331.45 166.15 332.32 166.04 333.17 165.92 334 165.8 334.8 165.67 335.58 165.55 336.35 165.41 337.09 165.26 337.83 165.1 338.56 164.92 339.28 164.72 340 164.5 340.75 164.23 341.54 163.9 342.34 163.54 343.12 163.17 343.86 162.81 344.52 162.48 345.08 162.2 345.5 162" fill="none" stroke="#f07070" stroke-width="0.95" clip-path="url(#cp11)"/>
<rect x="204.5" y="129.5" width="141.0" height="94" fill="none" stroke="#8c8c8c" stroke-width="0.9"/>
<line x1="204.5" y1="223.5" x2="204.5" y2="224.7" stroke="#777" stroke-width="0.8"/>
<text transform="translate(204.5,231.4) scale(0.25,0.27)" font-size="26" text-anchor="middle">1000</text>
<line x1="220.17" y1="223.5" x2="220.17" y2="224.7" stroke="#777" stroke-width="0.8"/>
<text transform="translate(220.17,231.4) scale(0.25,0.27)" font-size="26" text-anchor="middle">2000</text>
<line x1="235.83" y1="223.5" x2="235.83" y2="224.7" stroke="#777" stroke-width="0.8"/>
<text transform="translate(235.83,231.4) scale(0.25,0.27)" font-size="26" text-anchor="middle">3000</text>
<line x1="251.5" y1="223.5" x2="251.5" y2="224.7" stroke="#777" stroke-width="0.8"/>
<text transform="translate(251.5,231.4) scale(0.25,0.27)" font-size="26" text-anchor="middle">4000</text>
<line x1="267.17" y1="223.5" x2="267.17" y2="224.7" stroke="#777" stroke-width="0.8"/>
<text transform="translate(267.17,231.4) scale(0.25,0.27)" font-size="26" text-anchor="middle">5000</text>
<line x1="282.83" y1="223.5" x2="282.83" y2="224.7" stroke="#777" stroke-width="0.8"/>
<text transform="translate(282.83,231.4) scale(0.25,0.27)" font-size="26" text-anchor="middle">6000</text>
<line x1="298.5" y1="223.5" x2="298.5" y2="224.7" stroke="#777" stroke-width="0.8"/>
<text transform="translate(298.5,231.4) scale(0.25,0.27)" font-size="26" text-anchor="middle">7000</text>
<line x1="314.17" y1="223.5" x2="314.17" y2="224.7" stroke="#777" stroke-width="0.8"/>
<text transform="translate(314.17,231.4) scale(0.25,0.27)" font-size="26" text-anchor="middle">8000</text>
<line x1="329.83" y1="223.5" x2="329.83" y2="224.7" stroke="#777" stroke-width="0.8"/>
<text transform="translate(329.83,231.4) scale(0.25,0.27)" font-size="26" text-anchor="middle">9000</text>
<line x1="345.5" y1="223.5" x2="345.5" y2="224.7" stroke="#777" stroke-width="0.8"/>
<text transform="translate(344.3,231.4) scale(0.25,0.27)" font-size="26" text-anchor="middle">10</text><text transform="translate(347.5,228.5) scale(0.25,0.28)" font-size="17.2" text-anchor="start">4</text>
<text transform="translate(275,238.5) scale(0.25,0.29)" font-size="24.8" text-anchor="middle">Frequency (Hz)</text>
<line x1="203.3" y1="146.2" x2="204.5" y2="146.2" stroke="#777" stroke-width="0.8"/>
<text transform="translate(202.3,148.6) scale(0.25,0.27)" font-size="26" text-anchor="end">20</text>
<line x1="203.3" y1="177.5" x2="204.5" y2="177.5" stroke="#777" stroke-width="0.8"/>
<text transform="translate(202.3,179.9) scale(0.25,0.27)" font-size="26" text-anchor="end">0</text>
<line x1="203.3" y1="209.0" x2="204.5" y2="209.0" stroke="#777" stroke-width="0.8"/>
<text transform="translate(202.3,211.4) scale(0.25,0.27)" font-size="26" text-anchor="end">–20</text>
<text transform="translate(189.3,176) rotate(-90) scale(0.25,0.33)" font-size="24" text-anchor="middle">Sound pressure level (dB / Hz)</text>
<text transform="translate(-0.4,179.6) scale(0.25,0.25)" font-size="33.2" text-anchor="start">/ɕ/</text>
<line x1="64.83" y1="248.5" x2="64.83" y2="341.5" stroke="#8a8a8a" stroke-width="0.9" stroke-dasharray="1.4 1.8"/>
<line x1="111.83" y1="248.5" x2="111.83" y2="341.5" stroke="#8a8a8a" stroke-width="0.9" stroke-dasharray="1.4 1.8"/>
<line x1="143.17" y1="248.5" x2="143.17" y2="341.5" stroke="#c8c8c8" stroke-width="0.9" stroke-dasharray="1.4 1.8"/>
<line x1="158.83" y1="248.5" x2="158.83" y2="341.5" stroke="#a0a0a0" stroke-width="0.9" stroke-dasharray="1.4 1.8"/>
<path d="M33.5 319.82 33.7 333.34 33.9 315.24 34.1 327.43 34.3 312.47 34.5 317.41 34.7 316.6 34.9 313.36 35.1 314.03 35.3 310.96 35.5 312.56 35.7 303.04 35.9 300.57 36.1 305.6 36.3 317.42 36.5 305.27 36.7 307.18 36.9 302.55 37.11 315.18 37.31 306.06 37.51 308.29 37.71 317 37.91 322.42 38.11 305.67 38.31 299.29 38.51 330.21 38.71 312.13 38.91 330.57 39.11 308.3 39.31 321.02 39.51 298.07 39.71 305.16 39.91 309.5 40.11 302.43 40.31 322.62 40.51 317.24 40.71 300.36 40.91 308.68 41.11 302.73 41.31 299.74 41.51 310.01 41.71 316.84 41.91 299.16 42.11 301.58 42.31 306.17 42.51 308.43 42.71 297.8 42.91 315.47 43.11 309.61 43.31 302.79 43.51 305.83 43.71 321.71 43.91 305.87 44.12 302.47 44.32 325.48 44.52 297.74 44.72 315.12 44.92 303.71 45.12 303.96 45.32 300.45 45.52 302.83 45.72 300.57 45.92 316.55 46.12 294.39 46.32 295.43 46.52 296.29 46.72 301.14 46.92 311.75 47.12 292.95 47.32 305.66 47.52 305.48 47.72 299.36 47.92 305.19 48.12 292.39 48.32 300.29 48.52 296.35 48.72 320.49 48.92 294.03 49.12 289.49 49.32 308.07 49.52 295.99 49.72 289.39 49.92 296.06 50.12 296.28 50.32 296.07 50.52 309.75 50.72 290.47 50.92 287.82 51.12 291.2 51.33 284.94 51.53 295.49 51.73 287.12 51.93 287.77 52.13 314.46 52.33 287.01 52.53 294.39 52.73 285.93 52.93 282.86 53.13 295.46 53.33 301.06 53.53 306.63 53.73 288.9 53.93 294.68 54.13 287.57 54.33 283.42 54.53 280.99 54.73 290.56 54.93 280.27 55.13 279.81 55.33 277.48 55.53 296.18 55.73 292.99 55.93 283.29 56.13 285.63 56.33 278.46 56.53 298.44 56.73 289.42 56.93 277.15 57.13 285.78 57.33 281.4 57.53 302.06 57.73 292.08 57.93 279.58 58.13 272.42 58.34 296.64 58.54 270.97 58.74 283.2 58.94 275.18 59.14 279.93 59.34 290.21 59.54 273.18 59.74 274.23 59.94 267.94 60.14 261.51 60.34 273.27 60.54 260.7 60.74 266.78 60.94 281.31 61.14 259.12 61.34 269.36 61.54 256.68 61.74 264.65 61.94 276.56 62.14 263.43 62.34 252.53 62.54 270.66 62.74 262.7 62.94 256 63.14 256.21 63.34 247.5 63.54 256.63 63.74 264.09 63.94 250.35 64.14 250.15 64.34 247.5 64.54 260.9 64.74 256.96 64.94 247.5 65.14 297.49 65.35 259.24 65.55 250.24 65.75 247.5 65.95 252.01 66.15 251.95 66.35 264.95 66.55 258.69 66.75 270.52 66.95 266.11 67.15 256.36 67.35 247.5 67.55 252.75 67.75 273.22 67.95 258.45 68.15 254.44 68.35 250.49 68.55 248.38 68.75 270.7 68.95 257.89 69.15 286.84 69.35 264.78 69.55 252.92 69.75 251.68 69.95 251.67 70.15 265.61 70.35 254.27 70.55 260.75 70.75 275.16 70.95 252.9 71.15 252.04 71.35 258.51 71.55 254.43 71.75 266.68 71.95 260.61 72.15 256.47 72.36 270.05 72.56 271 72.76 271.55 72.96 255.27 73.16 261.11 73.36 287.51 73.56 282.85 73.76 260.34 73.96 263.12 74.16 273.81 74.36 273.49 74.56 274.1 74.76 273.63 74.96 267.24 75.16 267.71 75.36 285.4 75.56 266.94 75.76 269.18 75.96 291.52 76.16 277.24 76.36 282.4 76.56 268.39 76.76 281.38 76.96 276.37 77.16 269.55 77.36 279.62 77.56 269.52 77.76 294.58 77.96 272.09 78.16 285.3 78.36 272.8 78.56 291.88 78.76 271.36 78.96 272.93 79.16 281.11 79.37 284.66 79.57 286.98 79.77 288.12 79.97 278.98 80.17 275.25 80.37 277.15 80.57 275.29 80.77 274.15 80.97 280.42 81.17 277.26 81.37 285.4 81.57 277.17 81.77 276.87 81.97 302.17 82.17 298.54 82.37 279.63 82.57 296.97 82.77 282.27 82.97 298.83 83.17 281.58 83.37 289.39 83.57 296.33 83.77 285.57 83.97 293.66 84.17 282.27 84.37 301.01 84.57 286.31 84.77 292.64 84.97 294.4 85.17 306.34 85.37 299.86 85.57 291.11 85.77 287.25 85.97 310.63 86.17 296.18 86.38 303.7 86.58 300.34 86.78 297.52 86.98 302.79 87.18 297.73 87.38 291.5 87.58 299.24 87.78 290.86 87.98 286.95 88.18 285.66 88.38 295.33 88.58 303.54 88.78 292.02 88.98 287.4 89.18 298.79 89.38 289.55 89.58 291.53 89.78 305.16 89.98 303.1 90.18 286.29 90.38 293.6 90.58 285.69 90.78 309.53 90.98 291.42 91.18 300.61 91.38 293.31 91.58 305.52 91.78 285.77 91.98 285.96 92.18 309.78 92.38 285.65 92.58 289.52 92.78 292.04 92.98 293.59 93.18 295.74 93.38 298.16 93.59 290.71 93.79 304.43 93.99 284.73 94.19 297.99 94.39 301.34 94.59 288.01 94.79 290.36 94.99 305.05 95.19 283.23 95.39 292.29 95.59 287.13 95.79 288.6 95.99 296.42 96.19 279.04 96.39 281.61 96.59 285.54 96.79 297.44 96.99 284.84 97.19 293.97 97.39 288.87 97.59 288.76 97.79 297.21 97.99 279.9 98.19 287.11 98.39 277.99 98.59 278.82 98.79 297.28 98.99 277.87 99.19 277.67 99.39 276.68 99.59 274.62 99.79 291.72 99.99 294.71 100.19 298.78 100.39 284.71 100.6 283.25 100.8 287.07 101 292.87 101.2 297.19 101.4 305.73 101.6 285.64 101.8 290.01 102 304 102.2 289.68 102.4 302.07 102.6 288.95 102.8 282.93 103 318.59 103.2 320.23 103.4 293.01 103.6 284.83 103.8 300.5 104 283.66 104.2 300.73 104.4 296.09 104.6 300.18 104.8 294.29 105 299.83 105.2 285.61 105.4 285.35 105.6 291.6 105.8 289.89 106 308.03 106.2 305.33 106.4 313.02 106.6 299.82 106.8 290.52 107 298.87 107.2 310.84 107.4 296.66 107.61 293.51 107.81 287.56 108.01 287.61 108.21 284.23 108.41 289.06 108.61 283.24 108.81 288.29 109.01 281.88 109.21 304.98 109.41 290.66 109.61 283.38 109.81 284.38 110.01 299.89 110.21 292.47 110.41 285.95 110.61 282.12 110.81 283.87 111.01 279.95 111.21 277.22 111.41 294.77 111.61 286.26 111.81 293.3 112.01 297.35 112.21 276.4 112.41 280.74 112.61 282.33 112.81 294.54 113.01 274.3 113.21 275.24 113.41 273.37 113.61 274.39 113.81 284.59 114.01 275.53 114.21 289.59 114.41 279.35 114.62 279.74 114.82 277.91 115.02 278.46 115.22 278.68 115.42 284.1 115.62 293.6 115.82 296.52 116.02 293.67 116.22 285.02 116.42 292.07 116.62 283.12 116.82 284.42 117.02 288.56 117.22 296.66 117.42 304.5 117.62 295.46 117.82 300.09 118.02 282.96 118.22 310.92 118.42 289.21 118.62 300.89 118.82 286 119.02 298.06 119.22 312.18 119.42 303.87 119.62 299.21 119.82 295.89 120.02 287.73 120.22 315.35 120.42 314 120.62 293.32 120.82 303.77 121.02 291.15 121.22 297.46 121.42 300.49 121.62 296.37 121.83 312.71 122.03 297.96 122.23 293.67 122.43 305.55 122.63 302.43 122.83 303.26 123.03 312.92 123.23 293.22 123.43 299.79 123.63 307.75 123.83 294.63 124.03 301.04 124.23 302.51 124.43 294.12 124.63 292.41 124.83 303.81 125.03 308.17 125.23 313.32 125.43 317.38 125.63 307 125.83 300.02 126.03 298.91 126.23 301.25 126.43 312.34 126.63 298.4 126.83 314.61 127.03 316.44 127.23 295.04 127.43 321.01 127.63 310.84 127.83 301.06 128.03 302.29 128.23 303.41 128.43 299.04 128.63 302.79 128.84 296.31 129.04 296.48 129.24 294.66 129.44 311.64 129.64 307.16 129.84 306.14 130.04 308.59 130.24 300.46 130.44 295.06 130.64 301.01 130.84 293.9 131.04 302.16 131.24 303.36 131.44 304.49 131.64 300.11 131.84 314.73 132.04 309.7 132.24 298.99 132.44 294.65 132.64 302.98 132.84 296.75 133.04 306.48 133.24 318.5 133.44 308.03 133.64 303.07 133.84 308.45 134.04 296.82 134.24 299.9 134.44 307.38 134.64 317.29 134.84 307.19 135.04 303.43 135.24 298.07 135.44 306.93 135.64 298.39 135.85 301.76 136.05 298.66 136.25 328.41 136.45 306.5 136.65 313.71 136.85 319.85 137.05 314.89 137.25 320.58 137.45 301.59 137.65 298.3 137.85 298.48 138.05 315.57 138.25 312.66 138.45 300.28 138.65 305.95 138.85 302.13 139.05 308.8 139.25 317.73 139.45 300.14 139.65 303.09 139.85 328.45 140.05 310.44 140.25 306.53 140.45 310.22 140.65 308.91 140.85 317.2 141.05 309.1 141.25 315.53 141.45 340.47 141.65 315.36 141.85 328.11 142.05 325.14 142.25 304.43 142.45 315.75 142.65 306.54 142.86 306.14 143.06 304.29 143.26 304.59 143.46 311.94 143.66 302.79 143.86 300.41 144.06 316.05 144.26 305.75 144.46 311.39 144.66 302.79 144.86 310.4 145.06 317.6 145.26 306.39 145.46 297.02 145.66 313.2 145.86 300.47 146.06 322.29 146.26 302.61 146.46 318.74 146.66 297.07 146.86 299.83 147.06 301.9 147.26 296.12 147.46 310.13 147.66 301.31 147.86 298.84 148.06 296.39 148.26 296.49 148.46 299.92 148.66 295.85 148.86 329.55 149.06 296.73 149.26 307.55 149.46 296.42 149.66 300.11 149.87 313.53 150.07 296.27 150.27 311.36 150.47 323.09 150.67 305.1 150.87 298.96 151.07 311.78 151.27 302.82 151.47 300.05 151.67 308.75 151.87 306.7 152.07 321.93 152.27 318.74 152.47 307.34 152.67 323.69 152.87 295.5 153.07 304.72 153.27 307.69 153.47 315.18 153.67 311.41 153.87 314.15 154.07 314.08 154.27 331.16 154.47 297.53 154.67 309.4 154.87 306.48 155.07 301.14 155.27 312.95 155.47 312.48 155.67 312.01 155.87 319.09 156.07 297.19 156.27 301.74 156.47 302.12 156.67 306.95 156.88 308.8 157.08 306.34 157.28 302.84 157.48 296.55 157.68 308.37 157.88 310.32 158.08 327.07 158.28 320.16 158.48 314.52 158.68 317.01 158.88 314.86 159.08 304.33 159.28 298.81 159.48 332.05 159.68 309.81 159.88 300.88 160.08 307.65 160.28 300.72 160.48 297.68 160.68 296.83 160.88 311.81 161.08 305.91 161.28 305.28 161.48 322.16 161.68 301.27 161.88 317.17 162.08 317.82 162.28 301.52 162.48 299.98 162.68 322.31 162.88 318.39 163.08 302.19 163.28 297.1 163.48 302.14 163.68 301.26 163.88 301.18 164.09 301.71 164.29 314.28 164.49 327.88 164.69 319.97 164.89 297.66 165.09 300.36 165.29 316.92 165.49 295.99 165.69 298.5 165.89 316.34 166.09 330.14 166.29 307.98 166.49 318.4 166.69 307.29 166.89 297.23 167.09 308.63 167.29 315.32 167.49 300.71 167.69 300.87 167.89 311.14 168.09 312.21 168.29 302.28 168.49 300.77 168.69 305.81 168.89 319.5 169.09 308.67 169.29 306.76 169.49 316.25 169.69 310.19 169.89 314.62 170.09 319.41 170.29 307.94 170.49 322.12 170.69 320.58 170.89 312.3 171.1 308.45 171.3 320.86 171.5 321.62 171.7 311.67 171.9 314.78 172.1 313.79 172.3 329.17 172.5 327.85 172.7 325.82 172.9 311.14 173.1 321.84 173.3 324.46 173.5 306.03 173.7 315.99 173.9 309.8 174.1 302.2 174.3 311.52 174.5 316.9" fill="none" stroke="#000" stroke-width="0.22" clip-path="url(#cp20)"/>
<path d="M33.5 275.8 34.01 275.92 34.7 276.09 35.53 276.3 36.44 276.52 37.39 276.74 38.33 276.96 39.21 277.15 40 277.3 40.7 277.42 41.36 277.53 41.98 277.62 42.59 277.69 43.19 277.75 43.79 277.79 44.39 277.81 45 277.8 45.63 277.77 46.27 277.72 46.91 277.65 47.56 277.56 48.19 277.45 48.81 277.31 49.42 277.17 50 277 50.56 276.81 51.12 276.6 51.66 276.36 52.18 276.11 52.69 275.84 53.18 275.56 53.65 275.28 54.1 275 54.52 274.71 54.92 274.41 55.3 274.1 55.66 273.78 56.01 273.46 56.35 273.14 56.67 272.82 57 272.5 57.31 272.21 57.6 271.97 57.87 271.74 58.13 271.5 58.4 271.23 58.68 270.91 58.97 270.5 59.3 270 59.67 269.37 60.07 268.63 60.5 267.81 60.93 266.94 61.36 266.04 61.78 265.15 62.16 264.29 62.5 263.5 62.8 262.74 63.07 261.98 63.33 261.23 63.56 260.5 63.77 259.8 63.96 259.14 64.14 258.54 64.3 258 64.43 257.58 64.51 257.3 64.57 257.1 64.62 256.93 64.67 256.73 64.74 256.46 64.84 256.07 65 255.5 65.21 254.63 65.47 253.46 65.75 252.1 66.06 250.71 66.38 249.39 66.7 248.28 67.01 247.51 67.3 247.2 67.58 247.43 67.86 248.12 68.14 249.13 68.41 250.36 68.68 251.68 68.94 252.97 69.18 254.12 69.4 255 69.6 255.63 69.77 256.14 69.92 256.56 70.06 256.93 70.2 257.27 70.35 257.62 70.51 258.02 70.7 258.5 70.9 259.04 71.09 259.61 71.29 260.2 71.51 260.81 71.74 261.45 71.99 262.11 72.28 262.79 72.6 263.5 72.96 264.25 73.35 265.05 73.78 265.89 74.22 266.75 74.69 267.61 75.18 268.45 75.69 269.25 76.2 270 76.73 270.71 77.29 271.39 77.86 272.05 78.46 272.69 79.06 273.3 79.67 273.89 80.29 274.46 80.9 275 81.51 275.53 82.13 276.05 82.74 276.55 83.37 277.02 84 277.46 84.65 277.86 85.32 278.21 86 278.5 86.71 278.73 87.44 278.89 88.18 279 88.94 279.07 89.71 279.12 90.48 279.15 91.24 279.17 92 279.2 92.75 279.23 93.5 279.25 94.25 279.25 95 279.24 95.75 279.22 96.5 279.19 97.25 279.15 98 279.1 98.76 279.03 99.55 278.94 100.34 278.82 101.12 278.71 101.9 278.59 102.64 278.47 103.35 278.38 104 278.3 104.6 278.24 105.16 278.19 105.69 278.15 106.19 278.12 106.66 278.1 107.12 278.09 107.56 278.09 108 278.1 108.42 278.11 108.82 278.13 109.2 278.16 109.56 278.19 109.92 278.24 110.27 278.31 110.63 278.39 111 278.5 111.37 278.62 111.73 278.75 112.08 278.9 112.44 279.06 112.8 279.25 113.18 279.47 113.58 279.71 114 280 114.45 280.34 114.93 280.73 115.43 281.16 115.94 281.61 116.46 282.08 116.98 282.54 117.49 282.99 118 283.4 118.5 283.79 119 284.16 119.5 284.52 120 284.88 120.5 285.23 121 285.59 121.5 285.94 122 286.3 122.5 286.66 123 287.02 123.5 287.38 124 287.74 124.5 288.11 125 288.47 125.5 288.83 126 289.2 126.49 289.57 126.95 289.95 127.41 290.32 127.88 290.7 128.35 291.08 128.86 291.45 129.4 291.83 130 292.2 130.65 292.57 131.36 292.96 132.1 293.34 132.88 293.73 133.66 294.1 134.45 294.45 135.24 294.79 136 295.1 136.75 295.39 137.5 295.65 138.25 295.9 139 296.14 139.75 296.35 140.5 296.55 141.25 296.74 142 296.9 142.75 297.04 143.5 297.16 144.25 297.26 145 297.34 145.75 297.41 146.5 297.47 147.25 297.53 148 297.6 148.75 297.66 149.5 297.72 150.25 297.76 151 297.81 151.75 297.85 152.5 297.89 153.25 297.94 154 298 154.75 298.07 155.5 298.14 156.25 298.21 157 298.29 157.75 298.37 158.5 298.45 159.25 298.53 160 298.6 160.75 298.66 161.5 298.72 162.25 298.76 163 298.81 163.75 298.87 164.5 298.93 165.25 299 166 299.1 166.77 299.22 167.58 299.36 168.4 299.52 169.22 299.69 170.01 299.86 170.75 300.02 171.42 300.17 172 300.3 172.5 300.42 172.93 300.53 173.3 300.63 173.62 300.72 173.9 300.81 174.13 300.89 174.33 300.95 174.5 301" fill="none" stroke="#f07070" stroke-width="0.95" clip-path="url(#cp20)"/>
<rect x="33.5" y="247.5" width="141.0" height="94" fill="none" stroke="#8c8c8c" stroke-width="0.9"/>
<line x1="33.5" y1="341.5" x2="33.5" y2="342.7" stroke="#777" stroke-width="0.8"/>
<text transform="translate(33.5,349.4) scale(0.25,0.27)" font-size="26" text-anchor="middle">1000</text>
<line x1="49.17" y1="341.5" x2="49.17" y2="342.7" stroke="#777" stroke-width="0.8"/>
<text transform="translate(49.17,349.4) scale(0.25,0.27)" font-size="26" text-anchor="middle">2000</text>
<line x1="64.83" y1="341.5" x2="64.83" y2="342.7" stroke="#777" stroke-width="0.8"/>
<text transform="translate(64.83,349.4) scale(0.25,0.27)" font-size="26" text-anchor="middle">3000</text>
<line x1="80.5" y1="341.5" x2="80.5" y2="342.7" stroke="#777" stroke-width="0.8"/>
<text transform="translate(80.5,349.4) scale(0.25,0.27)" font-size="26" text-anchor="middle">4000</text>
<line x1="96.17" y1="341.5" x2="96.17" y2="342.7" stroke="#777" stroke-width="0.8"/>
<text transform="translate(96.17,349.4) scale(0.25,0.27)" font-size="26" text-anchor="middle">5000</text>
<line x1="111.83" y1="341.5" x2="111.83" y2="342.7" stroke="#777" stroke-width="0.8"/>
<text transform="translate(111.83,349.4) scale(0.25,0.27)" font-size="26" text-anchor="middle">6000</text>
<line x1="127.5" y1="341.5" x2="127.5" y2="342.7" stroke="#777" stroke-width="0.8"/>
<text transform="translate(127.5,349.4) scale(0.25,0.27)" font-size="26" text-anchor="middle">7000</text>
<line x1="143.17" y1="341.5" x2="143.17" y2="342.7" stroke="#777" stroke-width="0.8"/>
<text transform="translate(143.17,349.4) scale(0.25,0.27)" font-size="26" text-anchor="middle">8000</text>
<line x1="158.83" y1="341.5" x2="158.83" y2="342.7" stroke="#777" stroke-width="0.8"/>
<text transform="translate(158.83,349.4) scale(0.25,0.27)" font-size="26" text-anchor="middle">9000</text>
<line x1="174.5" y1="341.5" x2="174.5" y2="342.7" stroke="#777" stroke-width="0.8"/>
<text transform="translate(173.3,349.4) scale(0.25,0.27)" font-size="26" text-anchor="middle">10</text><text transform="translate(176.5,346.5) scale(0.25,0.28)" font-size="17.2" text-anchor="start">4</text>
<text transform="translate(104,356.5) scale(0.25,0.29)" font-size="24.8" text-anchor="middle">Frequency (Hz)</text>
<line x1="32.3" y1="249.5" x2="33.5" y2="249.5" stroke="#777" stroke-width="0.8"/>
<text transform="translate(31.3,251.9) scale(0.25,0.27)" font-size="26" text-anchor="end">40</text>
<line x1="32.3" y1="280.5" x2="33.5" y2="280.5" stroke="#777" stroke-width="0.8"/>
<text transform="translate(31.3,282.9) scale(0.25,0.27)" font-size="26" text-anchor="end">20</text>
<line x1="32.3" y1="311.7" x2="33.5" y2="311.7" stroke="#777" stroke-width="0.8"/>
<text transform="translate(31.3,314.1) scale(0.25,0.27)" font-size="26" text-anchor="end">0</text>
<text transform="translate(18.3,294) rotate(-90) scale(0.25,0.33)" font-size="24" text-anchor="middle">Sound pressure level (dB / Hz)</text>
<line x1="235.83" y1="248.5" x2="235.83" y2="341.5" stroke="#8a8a8a" stroke-width="0.9" stroke-dasharray="1.4 1.8"/>
<line x1="282.83" y1="248.5" x2="282.83" y2="341.5" stroke="#8a8a8a" stroke-width="0.9" stroke-dasharray="1.4 1.8"/>
<line x1="314.17" y1="248.5" x2="314.17" y2="341.5" stroke="#c8c8c8" stroke-width="0.9" stroke-dasharray="1.4 1.8"/>
<line x1="329.83" y1="248.5" x2="329.83" y2="341.5" stroke="#a0a0a0" stroke-width="0.9" stroke-dasharray="1.4 1.8"/>
<path d="M204.5 316.09 204.7 330.87 204.9 306.95 205.1 330.67 205.3 310.6 205.5 338.72 205.7 327.88 205.9 316.18 206.1 309.9 206.3 313.86 206.5 340.89 206.7 312.38 206.9 327.32 207.1 325.43 207.3 309.35 207.5 318.13 207.7 319.44 207.9 319.62 208.11 338.44 208.31 311.74 208.51 307.43 208.71 311.18 208.91 312.3 209.11 308.39 209.31 309.71 209.51 309.07 209.71 325.94 209.91 310.22 210.11 303.2 210.31 301.34 210.51 299.36 210.71 300.17 210.91 303.97 211.11 305.83 211.31 304.99 211.51 300 211.71 322.35 211.91 294.6 212.11 316.35 212.31 299.29 212.51 305 212.71 295.94 212.91 300.45 213.11 293.19 213.31 291.49 213.51 297.89 213.71 297.1 213.91 293.37 214.11 289.69 214.31 305.16 214.51 297.04 214.71 288.07 214.91 300.55 215.12 292.04 215.32 315.72 215.52 302.3 215.72 310.96 215.92 292.1 216.12 287.36 216.32 304.06 216.52 300.66 216.72 297.73 216.92 314.17 217.12 302.16 217.32 287.25 217.52 289.81 217.72 287 217.92 299.66 218.12 296.98 218.32 283.35 218.52 283.78 218.72 306.2 218.92 306.09 219.12 301.42 219.32 303.9 219.52 297.96 219.72 309.56 219.92 290.2 220.12 295.38 220.32 285.77 220.52 290.65 220.72 303.36 220.92 305.33 221.12 291.72 221.32 282.48 221.52 290.7 221.72 287.47 221.92 305.35 222.12 293.62 222.33 286.76 222.53 303.59 222.73 290.33 222.93 284.46 223.13 299.55 223.33 291.87 223.53 277.31 223.73 273.83 223.93 281.9 224.13 284.4 224.33 273.77 224.53 297.28 224.73 294.59 224.93 273.66 225.13 278.05 225.33 276.84 225.53 284.68 225.73 272.05 225.93 271.93 226.13 269.61 226.33 272.38 226.53 284.25 226.73 276.68 226.93 272.2 227.13 275.19 227.33 280.3 227.53 265.6 227.73 266.99 227.93 281.62 228.13 281.55 228.33 271.67 228.53 278.95 228.73 263.78 228.93 265.87 229.13 282.42 229.34 288.88 229.54 265.42 229.74 288.31 229.94 264.54 230.14 258.69 230.34 269.94 230.54 256.46 230.74 255.58 230.94 267.38 231.14 264.95 231.34 254.29 231.54 250.8 231.74 261.64 231.94 256.54 232.14 272.77 232.34 248.88 232.54 278.33 232.74 260.33 232.94 257.31 233.14 275.55 233.34 269.06 233.54 263.79 233.74 269.99 233.94 258.12 234.14 289.86 234.34 259.37 234.54 277.2 234.74 281.58 234.94 281.53 235.14 274.06 235.34 263.87 235.54 282.74 235.74 291.31 235.94 299.42 236.14 268.11 236.35 270.63 236.55 285.76 236.75 277.61 236.95 270.74 237.15 280.22 237.35 265.61 237.55 273.82 237.75 274.55 237.95 270.82 238.15 277.32 238.35 263.9 238.55 280.5 238.75 290.48 238.95 269.19 239.15 265.59 239.35 281.22 239.55 268.61 239.75 269.23 239.95 260.68 240.15 259.34 240.35 261.52 240.55 274.34 240.75 272.31 240.95 271.52 241.15 258.23 241.35 255.07 241.55 254.83 241.75 280.84 241.95 257.31 242.15 262.24 242.35 252.46 242.55 272.35 242.75 254.35 242.95 257.64 243.15 261.22 243.36 267.66 243.56 259.07 243.76 255.59 243.96 260.27 244.16 252.93 244.36 269.87 244.56 270.15 244.76 255.95 244.96 258.58 245.16 275.21 245.36 267.14 245.56 264.16 245.76 284.48 245.96 266.6 246.16 286.01 246.36 270.5 246.56 265.2 246.76 265.35 246.96 286.47 247.16 290.18 247.36 299.98 247.56 278.71 247.76 275.29 247.96 303.11 248.16 278.36 248.36 274.33 248.56 277.31 248.76 289.3 248.96 288.17 249.16 279.34 249.36 280.59 249.56 309.05 249.76 290.32 249.96 285.06 250.16 284.72 250.37 285.64 250.57 304.47 250.77 303.97 250.97 301.01 251.17 292.2 251.37 293.82 251.57 296.15 251.77 286.74 251.97 284.91 252.17 284.39 252.37 284.87 252.57 299.94 252.77 289.04 252.97 284.37 253.17 298.49 253.37 293.04 253.57 290.73 253.77 287.39 253.97 287.68 254.17 290.24 254.37 304.63 254.57 302.96 254.77 291.84 254.97 285.1 255.17 284.85 255.37 287.89 255.57 284.57 255.77 286.6 255.97 297.13 256.17 291.57 256.37 306.37 256.57 292.81 256.77 291.88 256.97 294.81 257.17 300.1 257.38 280.27 257.58 284.57 257.78 293.68 257.98 282.98 258.18 282.26 258.38 283.99 258.58 295.11 258.78 293.84 258.98 289.44 259.18 283.02 259.38 293.58 259.58 290.63 259.78 280.16 259.98 293.79 260.18 284.34 260.38 280.72 260.58 295.44 260.78 281.05 260.98 287.53 261.18 280.48 261.38 294.34 261.58 286.58 261.78 294.74 261.98 291.49 262.18 282.96 262.38 312.71 262.58 280.7 262.78 304.78 262.98 292.72 263.18 299.89 263.38 297.28 263.58 283.79 263.78 280.48 263.98 285.61 264.18 294.66 264.38 284 264.59 285.88 264.79 289.06 264.99 282.54 265.19 294.58 265.39 289.69 265.59 289.27 265.79 291.15 265.99 289.41 266.19 288.04 266.39 289.73 266.59 285.18 266.79 280.97 266.99 284.56 267.19 298.29 267.39 284.41 267.59 298.59 267.79 281.11 267.99 297.24 268.19 300.45 268.39 284.59 268.59 300.37 268.79 305.25 268.99 300.37 269.19 287.18 269.39 288.81 269.59 298.82 269.79 300.86 269.99 287.14 270.19 297.57 270.39 285.9 270.59 286.2 270.79 300.56 270.99 284.89 271.19 296.22 271.39 284.43 271.6 302.59 271.8 293.88 272 278.39 272.2 290.86 272.4 284.41 272.6 294.02 272.8 278.49 273 285.22 273.2 278.96 273.4 291.64 273.6 281.7 273.8 279.84 274 299.7 274.2 292.78 274.4 286.02 274.6 301.22 274.8 289.99 275 282.71 275.2 278.83 275.4 296.99 275.6 302.21 275.8 281.2 276 283.92 276.2 292.11 276.4 287.35 276.6 301.46 276.8 292.51 277 318.61 277.2 294.23 277.4 284.82 277.6 280.57 277.8 295.04 278 285.62 278.2 282.04 278.4 304.66 278.61 281.11 278.81 284 279.01 288.89 279.21 294.99 279.41 282.58 279.61 293.83 279.81 301.88 280.01 296.86 280.21 280.43 280.41 282.47 280.61 293.23 280.81 313.35 281.01 292.06 281.21 283.12 281.41 283.16 281.61 292.43 281.81 284.97 282.01 287.14 282.21 286.74 282.41 296.07 282.61 311.65 282.81 307.74 283.01 319.3 283.21 283.59 283.41 286.33 283.61 290.52 283.81 293.8 284.01 289.47 284.21 289.34 284.41 282.98 284.61 296.37 284.81 284.14 285.01 303.23 285.21 303.95 285.41 289.96 285.62 292.56 285.82 302.13 286.02 299.47 286.22 289.31 286.42 298.9 286.62 289.24 286.82 288.67 287.02 297.94 287.22 302.68 287.42 292 287.62 293.14 287.82 311.45 288.02 294.31 288.22 288.38 288.42 292.61 288.62 292.68 288.82 288.06 289.02 281.5 289.22 306.04 289.42 285.08 289.62 287.89 289.82 295.18 290.02 298.05 290.22 296.24 290.42 285.17 290.62 284.13 290.82 281.66 291.02 301.64 291.22 287.86 291.42 291.76 291.62 288.36 291.82 286.44 292.02 304.32 292.22 281.4 292.42 288.51 292.62 286.37 292.83 307.03 293.03 295.6 293.23 294.85 293.43 300.07 293.63 284.02 293.83 282.38 294.03 290.26 294.23 286.05 294.43 283.23 294.63 285.97 294.83 283.96 295.03 285.57 295.23 280.52 295.43 284.34 295.63 293.28 295.83 300.31 296.03 280.94 296.23 283.82 296.43 279.93 296.63 287.16 296.83 280.74 297.03 298.98 297.23 301.58 297.43 308.69 297.63 280.05 297.83 291.53 298.03 290.47 298.23 291.5 298.43 295.68 298.63 278.6 298.83 298.21 299.03 281.16 299.23 304.75 299.43 278.6 299.63 298.62 299.84 278.88 300.04 285.7 300.24 296.36 300.44 284.84 300.64 290.94 300.84 282.7 301.04 281.73 301.24 281.35 301.44 284.65 301.64 290.74 301.84 295.66 302.04 290.54 302.24 299.05 302.44 296.3 302.64 309.3 302.84 295.51 303.04 286.12 303.24 300.12 303.44 316.35 303.64 324.81 303.84 309.38 304.04 294.82 304.24 299.38 304.44 296.97 304.64 310.88 304.84 291.7 305.04 293.03 305.24 295.3 305.44 295.58 305.64 311.46 305.84 298.42 306.04 310.77 306.24 299.18 306.44 312.14 306.64 312.12 306.85 307.07 307.05 300.55 307.25 311.25 307.45 297.96 307.65 299.35 307.85 297.62 308.05 302.68 308.25 296.26 308.45 305.29 308.65 307.1 308.85 310.03 309.05 308.26 309.25 317.4 309.45 294.88 309.65 294.8 309.85 295.03 310.05 292.94 310.25 302.64 310.45 298.91 310.65 296.82 310.85 311.26 311.05 304.76 311.25 297.16 311.45 296.47 311.65 302.48 311.85 296.86 312.05 323.42 312.25 305.89 312.45 296.16 312.65 296.95 312.85 317.71 313.05 327.41 313.25 296.77 313.45 303 313.65 316.73 313.86 291.04 314.06 309.78 314.26 298.97 314.46 302.38 314.66 304.91 314.86 294.57 315.06 306.01 315.26 300.64 315.46 303.58 315.66 301.66 315.86 294.16 316.06 314.59 316.26 311.14 316.46 317.61 316.66 297.96 316.86 311.2 317.06 315.18 317.26 300.8 317.46 313.93 317.66 313.14 317.86 305.55 318.06 304.35 318.26 322.94 318.46 302.46 318.66 316.34 318.86 314.46 319.06 300.62 319.26 320.8 319.46 308.2 319.66 326.63 319.86 307.35 320.06 302.55 320.26 307.54 320.46 308.54 320.66 306.31 320.87 305.18 321.07 307.21 321.27 309.89 321.47 311.66 321.67 329.64 321.87 301.63 322.07 312.08 322.27 309.42 322.47 306.77 322.67 305.38 322.87 304.86 323.07 302.03 323.27 311.84 323.47 330.75 323.67 330.5 323.87 301.17 324.07 305.36 324.27 302.5 324.47 312.89 324.67 312.55 324.87 323.79 325.07 313.95 325.27 302.95 325.47 309.84 325.67 302.48 325.87 303.37 326.07 300.33 326.27 318.62 326.47 306.53 326.67 306.92 326.87 320.74 327.07 317.97 327.27 306.64 327.47 304.11 327.67 303.15 327.88 309.92 328.08 307.69 328.28 313.16 328.48 307.09 328.68 318.79 328.88 321.56 329.08 307.71 329.28 320 329.48 302.32 329.68 315.76 329.88 323.56 330.08 329.52 330.28 312.24 330.48 327.77 330.68 308.18 330.88 323.92 331.08 315.51 331.28 318.67 331.48 316.6 331.68 315.58 331.88 317.15 332.08 326.54 332.28 311.56 332.48 309.19 332.68 317.69 332.88 317.9 333.08 310.21 333.28 335.34 333.48 309.41 333.68 336.19 333.88 319.97 334.08 319.1 334.28 332.28 334.48 316.16 334.68 319.95 334.88 316.47 335.09 312.48 335.29 320.62 335.49 315.09 335.69 325.14 335.89 319.97 336.09 319.34 336.29 335.59 336.49 314.23 336.69 318.94 336.89 315 337.09 327.44 337.29 316.93 337.49 313.05 337.69 312.83 337.89 327.34 338.09 315.08 338.29 327.31 338.49 327.2 338.69 321.47 338.89 313.95 339.09 312.12 339.29 315.83 339.49 315.65 339.69 324.22 339.89 316.11 340.09 330.76 340.29 326.22 340.49 312.59 340.69 315.54 340.89 310.13 341.09 320.61 341.29 309.55 341.49 329.22 341.69 310.42 341.89 308.4 342.1 341.5 342.3 341.5 342.5 317.1 342.7 325.85 342.9 321.07 343.1 309.55 343.3 324.15 343.5 316.9 343.7 312.63 343.9 309.2 344.1 310.57 344.3 331.31 344.5 304.97 344.7 320.82 344.9 307.91 345.1 306.37 345.3 314.21 345.5 307.36" fill="none" stroke="#000" stroke-width="0.17" clip-path="url(#cp21)"/>
<path d="M204.5 270.1 204.77 270.2 205.12 270.34 205.53 270.51 206 270.69 206.5 270.88 207.01 271.07 207.51 271.25 208 271.4 208.48 271.54 208.96 271.67 209.46 271.8 209.97 271.92 210.48 272.03 210.99 272.13 211.5 272.22 212 272.3 212.5 272.36 213 272.41 213.5 272.45 214 272.48 214.5 272.5 215 272.51 215.5 272.51 216 272.5 216.5 272.49 217 272.47 217.5 272.44 218 272.41 218.5 272.36 219 272.29 219.5 272.21 220 272.1 220.5 271.97 221 271.82 221.5 271.65 222 271.46 222.5 271.26 223 271.05 223.5 270.83 224 270.6 224.51 270.36 225.05 270.1 225.59 269.83 226.12 269.54 226.65 269.26 227.14 268.97 227.6 268.68 228 268.4 228.35 268.13 228.64 267.86 228.9 267.6 229.12 267.34 229.34 267.07 229.55 266.79 229.76 266.5 230 266.2 230.25 265.88 230.5 265.54 230.75 265.2 231 264.84 231.25 264.48 231.5 264.12 231.75 263.76 232 263.4 232.26 263.03 232.52 262.65 232.79 262.26 233.05 261.87 233.31 261.49 233.56 261.13 233.79 260.8 234 260.5 234.18 260.28 234.32 260.16 234.45 260.08 234.56 260.01 234.68 259.9 234.82 259.73 234.99 259.44 235.2 259 235.46 258.37 235.75 257.59 236.07 256.69 236.41 255.71 236.76 254.71 237.12 253.73 237.47 252.81 237.8 252 238.13 251.22 238.47 250.4 238.81 249.58 239.15 248.81 239.48 248.13 239.81 247.59 240.11 247.23 240.4 247.1 240.66 247.24 240.91 247.63 241.13 248.2 241.35 248.91 241.56 249.7 241.77 250.52 241.98 251.3 242.2 252 242.42 252.65 242.65 253.31 242.87 253.98 243.09 254.66 243.31 255.33 243.54 256 243.77 256.66 244 257.3 244.24 257.93 244.49 258.57 244.74 259.2 244.99 259.83 245.24 260.43 245.5 261.02 245.75 261.58 246 262.1 246.25 262.59 246.5 263.04 246.75 263.47 247 263.88 247.25 264.27 247.5 264.65 247.75 265.03 248 265.4 248.25 265.77 248.5 266.13 248.75 266.49 249 266.83 249.25 267.17 249.5 267.49 249.75 267.8 250 268.1 250.25 268.39 250.5 268.66 250.75 268.91 251 269.16 251.25 269.4 251.5 269.64 251.75 269.87 252 270.1 252.25 270.33 252.5 270.56 252.75 270.78 253 270.99 253.25 271.2 253.5 271.41 253.75 271.61 254 271.8 254.25 271.98 254.5 272.15 254.75 272.31 255 272.47 255.25 272.62 255.5 272.78 255.75 272.94 256 273.1 256.24 273.27 256.45 273.43 256.66 273.6 256.88 273.77 257.1 273.94 257.36 274.12 257.65 274.31 258 274.5 258.4 274.71 258.86 274.94 259.35 275.19 259.88 275.43 260.41 275.67 260.95 275.9 261.49 276.12 262 276.3 262.5 276.46 263 276.6 263.5 276.72 264 276.83 264.5 276.93 265 277.02 265.5 277.11 266 277.2 266.5 277.29 267 277.37 267.5 277.45 268 277.52 268.5 277.59 269 277.64 269.5 277.68 270 277.7 270.5 277.71 271 277.7 271.5 277.68 272 277.65 272.5 277.61 273 277.55 273.5 277.48 274 277.4 274.5 277.3 275 277.19 275.5 277.06 276 276.92 276.5 276.78 277 276.62 277.5 276.46 278 276.3 278.5 276.13 279 275.95 279.5 275.76 280 275.57 280.5 275.37 281 275.18 281.5 274.99 282 274.8 282.51 274.61 283.05 274.41 283.59 274.21 284.12 274.02 284.65 273.83 285.14 273.66 285.6 273.52 286 273.4 286.35 273.32 286.64 273.26 286.9 273.22 287.12 273.21 287.34 273.2 287.55 273.2 287.76 273.2 288 273.2 288.25 273.19 288.5 273.19 288.75 273.19 289 273.19 289.25 273.21 289.5 273.23 289.75 273.26 290 273.3 290.24 273.35 290.48 273.4 290.71 273.45 290.94 273.51 291.18 273.59 291.43 273.7 291.7 273.83 292 274 292.33 274.21 292.68 274.46 293.05 274.73 293.44 275.03 293.83 275.35 294.23 275.67 294.62 275.99 295 276.3 295.38 276.61 295.75 276.93 296.12 277.26 296.5 277.59 296.88 277.92 297.25 278.25 297.62 278.58 298 278.9 298.38 279.21 298.75 279.52 299.12 279.83 299.5 280.13 299.88 280.44 300.25 280.75 300.62 281.07 301 281.4 301.35 281.73 301.68 282.05 301.99 282.37 302.31 282.7 302.66 283.05 303.04 283.43 303.48 283.84 304 284.3 304.61 284.83 305.31 285.42 306.07 286.06 306.88 286.72 307.69 287.38 308.5 288.03 309.28 288.65 310 289.2 310.67 289.7 311.32 290.17 311.95 290.62 312.56 291.04 313.17 291.45 313.77 291.84 314.38 292.22 315 292.6 315.62 292.97 316.25 293.33 316.88 293.67 317.5 294.01 318.12 294.33 318.75 294.63 319.38 294.92 320 295.2 320.62 295.46 321.25 295.7 321.88 295.92 322.5 296.13 323.12 296.33 323.75 296.52 324.38 296.71 325 296.9 325.62 297.08 326.25 297.26 326.88 297.43 327.5 297.6 328.12 297.76 328.75 297.91 329.38 298.06 330 298.2 330.62 298.34 331.25 298.47 331.88 298.59 332.5 298.71 333.12 298.82 333.75 298.93 334.38 299.02 335 299.1 335.62 299.17 336.24 299.22 336.85 299.27 337.47 299.3 338.09 299.33 338.71 299.35 339.35 299.38 340 299.4 340.7 299.42 341.47 299.44 342.27 299.46 343.06 299.47 343.82 299.48 344.5 299.49 345.07 299.49 345.5 299.5" fill="none" stroke="#f07070" stroke-width="0.95" clip-path="url(#cp21)"/>
<rect x="204.5" y="247.5" width="141.0" height="94" fill="none" stroke="#8c8c8c" stroke-width="0.9"/>
<line x1="204.5" y1="341.5" x2="204.5" y2="342.7" stroke="#777" stroke-width="0.8"/>
<text transform="translate(204.5,349.4) scale(0.25,0.27)" font-size="26" text-anchor="middle">1000</text>
<line x1="220.17" y1="341.5" x2="220.17" y2="342.7" stroke="#777" stroke-width="0.8"/>
<text transform="translate(220.17,349.4) scale(0.25,0.27)" font-size="26" text-anchor="middle">2000</text>
<line x1="235.83" y1="341.5" x2="235.83" y2="342.7" stroke="#777" stroke-width="0.8"/>
<text transform="translate(235.83,349.4) scale(0.25,0.27)" font-size="26" text-anchor="middle">3000</text>
<line x1="251.5" y1="341.5" x2="251.5" y2="342.7" stroke="#777" stroke-width="0.8"/>
<text transform="translate(251.5,349.4) scale(0.25,0.27)" font-size="26" text-anchor="middle">4000</text>
<line x1="267.17" y1="341.5" x2="267.17" y2="342.7" stroke="#777" stroke-width="0.8"/>
<text transform="translate(267.17,349.4) scale(0.25,0.27)" font-size="26" text-anchor="middle">5000</text>
<line x1="282.83" y1="341.5" x2="282.83" y2="342.7" stroke="#777" stroke-width="0.8"/>
<text transform="translate(282.83,349.4) scale(0.25,0.27)" font-size="26" text-anchor="middle">6000</text>
<line x1="298.5" y1="341.5" x2="298.5" y2="342.7" stroke="#777" stroke-width="0.8"/>
<text transform="translate(298.5,349.4) scale(0.25,0.27)" font-size="26" text-anchor="middle">7000</text>
<line x1="314.17" y1="341.5" x2="314.17" y2="342.7" stroke="#777" stroke-width="0.8"/>
<text transform="translate(314.17,349.4) scale(0.25,0.27)" font-size="26" text-anchor="middle">8000</text>
<line x1="329.83" y1="341.5" x2="329.83" y2="342.7" stroke="#777" stroke-width="0.8"/>
<text transform="translate(329.83,349.4) scale(0.25,0.27)" font-size="26" text-anchor="middle">9000</text>
<line x1="345.5" y1="341.5" x2="345.5" y2="342.7" stroke="#777" stroke-width="0.8"/>
<text transform="translate(344.3,349.4) scale(0.25,0.27)" font-size="26" text-anchor="middle">10</text><text transform="translate(347.5,346.5) scale(0.25,0.28)" font-size="17.2" text-anchor="start">4</text>
<text transform="translate(275,356.5) scale(0.25,0.29)" font-size="24.8" text-anchor="middle">Frequency (Hz)</text>
<line x1="203.3" y1="252.6" x2="204.5" y2="252.6" stroke="#777" stroke-width="0.8"/>
<text transform="translate(202.3,255) scale(0.25,0.27)" font-size="26" text-anchor="end">40</text>
<line x1="203.3" y1="283.9" x2="204.5" y2="283.9" stroke="#777" stroke-width="0.8"/>
<text transform="translate(202.3,286.3) scale(0.25,0.27)" font-size="26" text-anchor="end">20</text>
<line x1="203.3" y1="315.4" x2="204.5" y2="315.4" stroke="#777" stroke-width="0.8"/>
<text transform="translate(202.3,317.8) scale(0.25,0.27)" font-size="26" text-anchor="end">0</text>
<text transform="translate(189.3,294) rotate(-90) scale(0.25,0.33)" font-size="24" text-anchor="middle">Sound pressure level (dB / Hz)</text>
<text transform="translate(-0.4,296.1) scale(0.25,0.25)" font-size="33.2" text-anchor="start">/ç/</text>
</svg></body></html>
